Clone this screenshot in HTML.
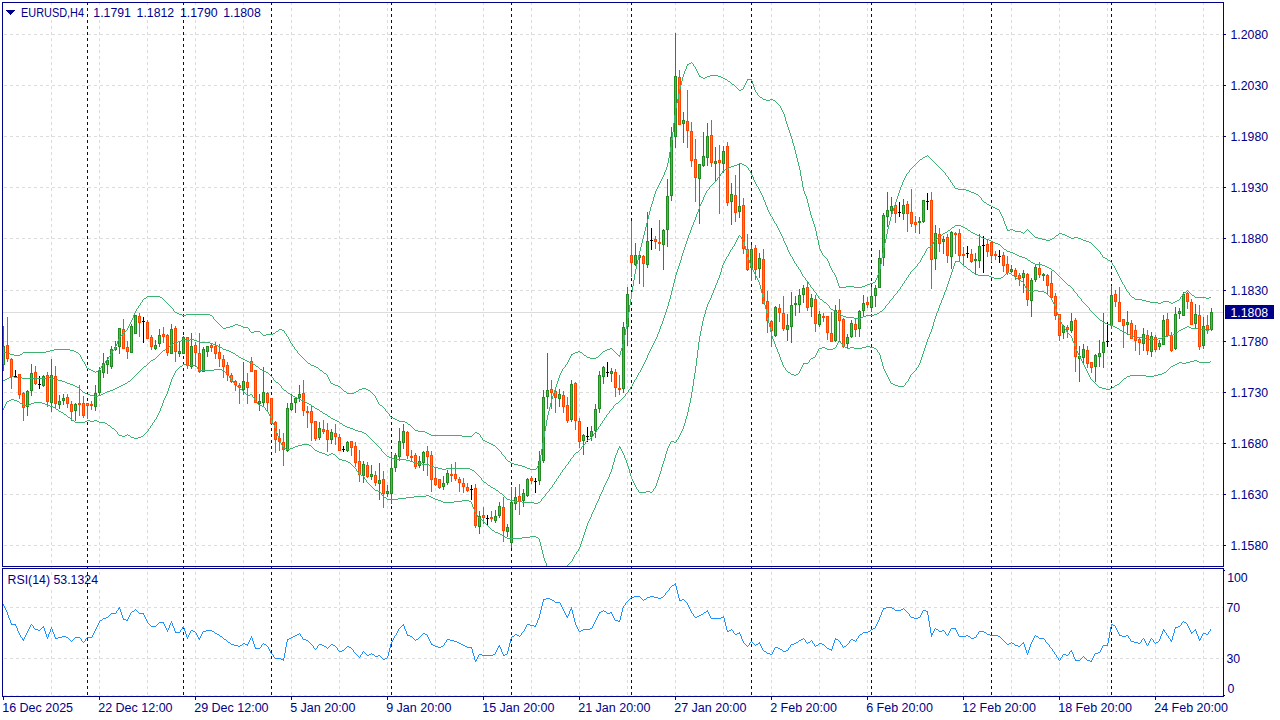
<!DOCTYPE html>
<html><head><meta charset="utf-8"><title>EURUSD,H4</title>
<style>
html,body{margin:0;padding:0;background:#fff;}
body{width:1280px;height:720px;overflow:hidden;position:relative;font-family:"Liberation Sans",sans-serif;}
svg{position:absolute;left:0;top:0;}
text{font-family:"Liberation Sans",sans-serif;font-size:12.3px;fill:#00008b;}
</style></head><body>
<svg width="1280" height="720" viewBox="0 0 1280 720">
<rect x="0" y="0" width="1280" height="720" fill="#ffffff"/>
<g shape-rendering="crispEdges" stroke="#dcdcdc" stroke-width="1" stroke-dasharray="3 3" fill="none">
<path d="M51.5 2V696"/>
<path d="M99.5 2V696"/>
<path d="M147.5 2V696"/>
<path d="M195.5 2V696"/>
<path d="M243.5 2V696"/>
<path d="M291.5 2V696"/>
<path d="M339.5 2V696"/>
<path d="M387.5 2V696"/>
<path d="M435.5 2V696"/>
<path d="M483.5 2V696"/>
<path d="M531.5 2V696"/>
<path d="M579.5 2V696"/>
<path d="M627.5 2V696"/>
<path d="M675.5 2V696"/>
<path d="M723.5 2V696"/>
<path d="M771.5 2V696"/>
<path d="M819.5 2V696"/>
<path d="M867.5 2V696"/>
<path d="M915.5 2V696"/>
<path d="M963.5 2V696"/>
<path d="M1011.5 2V696"/>
<path d="M1059.5 2V696"/>
<path d="M1107.5 2V696"/>
<path d="M1155.5 2V696"/>
<path d="M1203.5 2V696"/>
<path d="M4 34.5H1223"/>
<path d="M4 85.5H1223"/>
<path d="M4 136.5H1223"/>
<path d="M4 187.5H1223"/>
<path d="M4 238.5H1223"/>
<path d="M4 290.5H1223"/>
<path d="M4 341.5H1223"/>
<path d="M4 392.5H1223"/>
<path d="M4 443.5H1223"/>
<path d="M4 494.5H1223"/>
<path d="M4 545.5H1223"/>
<path d="M4 607.5H1223"/>
<path d="M4 658.5H1223"/>
<path d="M4 695.5H1223" stroke="#e8e8e4"/>
</g>
<rect x="4" y="6" width="260" height="14" fill="#fff"/>
<rect x="4" y="575" width="96" height="15" fill="#fff"/>
<g shape-rendering="crispEdges" stroke="#00008b" stroke-width="1" stroke-dasharray="3 3" fill="none">
<path d="M87.5 2V696"/>
<path d="M183.5 2V696"/>
<path d="M271.5 2V696"/>
<path d="M391.5 2V696"/>
<path d="M511.5 2V696"/>
<path d="M631.5 2V696"/>
<path d="M751.5 2V696"/>
<path d="M871.5 2V696"/>
<path d="M991.5 2V696"/>
<path d="M1111.5 2V696"/>
</g>
<rect x="3" y="312" width="1220" height="1" fill="#dcdcdc" shape-rendering="crispEdges"/>
<clipPath id="cm"><rect x="3" y="3" width="1220" height="563"/></clipPath>
<g shape-rendering="crispEdges" clip-path="url(#cm)">
<rect x="3" y="326" width="1" height="45" fill="#228b22"/>
<rect x="2" y="346" width="3" height="19" fill="#228b22"/>
<rect x="3" y="347" width="1" height="17" fill="#32cd32"/>
<rect x="7" y="317" width="1" height="45" fill="#ff4500"/>
<rect x="6" y="345" width="3" height="14" fill="#ff4500"/>
<rect x="7" y="346" width="1" height="12" fill="#ff8c00"/>
<rect x="11" y="358" width="1" height="31" fill="#ff4500"/>
<rect x="10" y="359" width="3" height="18" fill="#ff4500"/>
<rect x="11" y="360" width="1" height="16" fill="#ff8c00"/>
<rect x="15" y="370" width="1" height="8" fill="#000"/>
<rect x="14" y="376" width="3" height="1" fill="#000"/>
<rect x="19" y="374" width="1" height="25" fill="#ff4500"/>
<rect x="18" y="374" width="3" height="21" fill="#ff4500"/>
<rect x="19" y="375" width="1" height="19" fill="#ff8c00"/>
<rect x="23" y="392" width="1" height="29" fill="#ff4500"/>
<rect x="22" y="393" width="3" height="15" fill="#ff4500"/>
<rect x="23" y="394" width="1" height="13" fill="#ff8c00"/>
<rect x="27" y="390" width="1" height="26" fill="#228b22"/>
<rect x="26" y="391" width="3" height="16" fill="#228b22"/>
<rect x="27" y="392" width="1" height="14" fill="#32cd32"/>
<rect x="31" y="364" width="1" height="32" fill="#228b22"/>
<rect x="30" y="373" width="3" height="18" fill="#228b22"/>
<rect x="31" y="374" width="1" height="16" fill="#32cd32"/>
<rect x="35" y="366" width="1" height="19" fill="#ff4500"/>
<rect x="34" y="372" width="3" height="12" fill="#ff4500"/>
<rect x="35" y="373" width="1" height="10" fill="#ff8c00"/>
<rect x="39" y="376" width="1" height="13" fill="#000"/>
<rect x="38" y="384" width="3" height="1" fill="#000"/>
<rect x="43" y="375" width="1" height="12" fill="#228b22"/>
<rect x="42" y="376" width="3" height="10" fill="#228b22"/>
<rect x="43" y="377" width="1" height="8" fill="#32cd32"/>
<rect x="47" y="372" width="1" height="35" fill="#ff4500"/>
<rect x="46" y="375" width="3" height="27" fill="#ff4500"/>
<rect x="47" y="376" width="1" height="25" fill="#ff8c00"/>
<rect x="51" y="359" width="1" height="53" fill="#228b22"/>
<rect x="50" y="375" width="3" height="28" fill="#228b22"/>
<rect x="51" y="376" width="1" height="26" fill="#32cd32"/>
<rect x="55" y="366" width="1" height="43" fill="#ff4500"/>
<rect x="54" y="376" width="3" height="28" fill="#ff4500"/>
<rect x="55" y="377" width="1" height="26" fill="#ff8c00"/>
<rect x="59" y="395" width="1" height="14" fill="#228b22"/>
<rect x="58" y="401" width="3" height="4" fill="#228b22"/>
<rect x="59" y="402" width="1" height="2" fill="#32cd32"/>
<rect x="63" y="394" width="1" height="11" fill="#228b22"/>
<rect x="62" y="398" width="3" height="3" fill="#228b22"/>
<rect x="63" y="399" width="1" height="1" fill="#32cd32"/>
<rect x="67" y="394" width="1" height="14" fill="#ff4500"/>
<rect x="66" y="397" width="3" height="7" fill="#ff4500"/>
<rect x="67" y="398" width="1" height="5" fill="#ff8c00"/>
<rect x="71" y="401" width="1" height="20" fill="#ff4500"/>
<rect x="70" y="404" width="3" height="8" fill="#ff4500"/>
<rect x="71" y="405" width="1" height="6" fill="#ff8c00"/>
<rect x="75" y="403" width="1" height="18" fill="#228b22"/>
<rect x="74" y="404" width="3" height="7" fill="#228b22"/>
<rect x="75" y="405" width="1" height="5" fill="#32cd32"/>
<rect x="79" y="385" width="1" height="31" fill="#ff4500"/>
<rect x="78" y="403" width="3" height="2" fill="#ff4500"/>
<rect x="83" y="396" width="1" height="22" fill="#ff4500"/>
<rect x="82" y="403" width="3" height="13" fill="#ff4500"/>
<rect x="83" y="404" width="1" height="11" fill="#ff8c00"/>
<rect x="87" y="403" width="1" height="16" fill="#ff4500"/>
<rect x="86" y="403" width="3" height="3" fill="#ff4500"/>
<rect x="87" y="404" width="1" height="1" fill="#ff8c00"/>
<rect x="91" y="401" width="1" height="9" fill="#ff4500"/>
<rect x="90" y="404" width="3" height="2" fill="#ff4500"/>
<rect x="95" y="385" width="1" height="26" fill="#228b22"/>
<rect x="94" y="393" width="3" height="14" fill="#228b22"/>
<rect x="95" y="394" width="1" height="12" fill="#32cd32"/>
<rect x="99" y="367" width="1" height="28" fill="#228b22"/>
<rect x="98" y="370" width="3" height="23" fill="#228b22"/>
<rect x="99" y="371" width="1" height="21" fill="#32cd32"/>
<rect x="103" y="353" width="1" height="25" fill="#228b22"/>
<rect x="102" y="363" width="3" height="10" fill="#228b22"/>
<rect x="103" y="364" width="1" height="8" fill="#32cd32"/>
<rect x="107" y="357" width="1" height="17" fill="#228b22"/>
<rect x="106" y="360" width="3" height="5" fill="#228b22"/>
<rect x="107" y="361" width="1" height="3" fill="#32cd32"/>
<rect x="111" y="346" width="1" height="23" fill="#228b22"/>
<rect x="110" y="349" width="3" height="18" fill="#228b22"/>
<rect x="111" y="350" width="1" height="16" fill="#32cd32"/>
<rect x="115" y="341" width="1" height="10" fill="#228b22"/>
<rect x="114" y="347" width="3" height="3" fill="#228b22"/>
<rect x="115" y="348" width="1" height="1" fill="#32cd32"/>
<rect x="119" y="328" width="1" height="26" fill="#228b22"/>
<rect x="118" y="328" width="3" height="19" fill="#228b22"/>
<rect x="119" y="329" width="1" height="17" fill="#32cd32"/>
<rect x="123" y="319" width="1" height="30" fill="#ff4500"/>
<rect x="122" y="329" width="3" height="20" fill="#ff4500"/>
<rect x="123" y="330" width="1" height="18" fill="#ff8c00"/>
<rect x="127" y="341" width="1" height="18" fill="#ff4500"/>
<rect x="126" y="347" width="3" height="5" fill="#ff4500"/>
<rect x="127" y="348" width="1" height="3" fill="#ff8c00"/>
<rect x="131" y="324" width="1" height="29" fill="#228b22"/>
<rect x="130" y="326" width="3" height="27" fill="#228b22"/>
<rect x="131" y="327" width="1" height="25" fill="#32cd32"/>
<rect x="135" y="315" width="1" height="19" fill="#228b22"/>
<rect x="134" y="315" width="3" height="19" fill="#228b22"/>
<rect x="135" y="316" width="1" height="17" fill="#32cd32"/>
<rect x="139" y="313" width="1" height="24" fill="#ff4500"/>
<rect x="138" y="316" width="3" height="7" fill="#ff4500"/>
<rect x="139" y="317" width="1" height="5" fill="#ff8c00"/>
<rect x="143" y="317" width="1" height="26" fill="#000"/>
<rect x="142" y="321" width="3" height="1" fill="#000"/>
<rect x="147" y="320" width="1" height="19" fill="#ff4500"/>
<rect x="146" y="322" width="3" height="17" fill="#ff4500"/>
<rect x="147" y="323" width="1" height="15" fill="#ff8c00"/>
<rect x="151" y="335" width="1" height="15" fill="#ff4500"/>
<rect x="150" y="337" width="3" height="10" fill="#ff4500"/>
<rect x="151" y="338" width="1" height="8" fill="#ff8c00"/>
<rect x="155" y="340" width="1" height="10" fill="#228b22"/>
<rect x="154" y="345" width="3" height="4" fill="#228b22"/>
<rect x="155" y="346" width="1" height="2" fill="#32cd32"/>
<rect x="159" y="329" width="1" height="18" fill="#228b22"/>
<rect x="158" y="335" width="3" height="9" fill="#228b22"/>
<rect x="159" y="336" width="1" height="7" fill="#32cd32"/>
<rect x="163" y="327" width="1" height="16" fill="#ff4500"/>
<rect x="162" y="334" width="3" height="3" fill="#ff4500"/>
<rect x="163" y="335" width="1" height="1" fill="#ff8c00"/>
<rect x="167" y="334" width="1" height="22" fill="#ff4500"/>
<rect x="166" y="335" width="3" height="18" fill="#ff4500"/>
<rect x="167" y="336" width="1" height="16" fill="#ff8c00"/>
<rect x="171" y="324" width="1" height="30" fill="#228b22"/>
<rect x="170" y="329" width="3" height="25" fill="#228b22"/>
<rect x="171" y="330" width="1" height="23" fill="#32cd32"/>
<rect x="175" y="326" width="1" height="36" fill="#ff4500"/>
<rect x="174" y="328" width="3" height="24" fill="#ff4500"/>
<rect x="175" y="329" width="1" height="22" fill="#ff8c00"/>
<rect x="179" y="342" width="1" height="15" fill="#228b22"/>
<rect x="178" y="351" width="3" height="3" fill="#228b22"/>
<rect x="179" y="352" width="1" height="1" fill="#32cd32"/>
<rect x="183" y="336" width="1" height="18" fill="#228b22"/>
<rect x="182" y="337" width="3" height="17" fill="#228b22"/>
<rect x="183" y="338" width="1" height="15" fill="#32cd32"/>
<rect x="187" y="337" width="1" height="32" fill="#ff4500"/>
<rect x="186" y="337" width="3" height="29" fill="#ff4500"/>
<rect x="187" y="338" width="1" height="27" fill="#ff8c00"/>
<rect x="191" y="333" width="1" height="36" fill="#228b22"/>
<rect x="190" y="346" width="3" height="21" fill="#228b22"/>
<rect x="191" y="347" width="1" height="19" fill="#32cd32"/>
<rect x="195" y="342" width="1" height="25" fill="#ff4500"/>
<rect x="194" y="345" width="3" height="8" fill="#ff4500"/>
<rect x="195" y="346" width="1" height="6" fill="#ff8c00"/>
<rect x="199" y="333" width="1" height="40" fill="#ff4500"/>
<rect x="198" y="353" width="3" height="19" fill="#ff4500"/>
<rect x="199" y="354" width="1" height="17" fill="#ff8c00"/>
<rect x="203" y="347" width="1" height="25" fill="#228b22"/>
<rect x="202" y="349" width="3" height="23" fill="#228b22"/>
<rect x="203" y="350" width="1" height="21" fill="#32cd32"/>
<rect x="207" y="346" width="1" height="11" fill="#228b22"/>
<rect x="206" y="346" width="3" height="6" fill="#228b22"/>
<rect x="207" y="347" width="1" height="4" fill="#32cd32"/>
<rect x="211" y="344" width="1" height="8" fill="#ff4500"/>
<rect x="210" y="345" width="3" height="3" fill="#ff4500"/>
<rect x="211" y="346" width="1" height="1" fill="#ff8c00"/>
<rect x="215" y="342" width="1" height="17" fill="#ff4500"/>
<rect x="214" y="346" width="3" height="8" fill="#ff4500"/>
<rect x="215" y="347" width="1" height="6" fill="#ff8c00"/>
<rect x="219" y="344" width="1" height="23" fill="#ff4500"/>
<rect x="218" y="352" width="3" height="7" fill="#ff4500"/>
<rect x="219" y="353" width="1" height="5" fill="#ff8c00"/>
<rect x="223" y="355" width="1" height="23" fill="#ff4500"/>
<rect x="222" y="359" width="3" height="8" fill="#ff4500"/>
<rect x="223" y="360" width="1" height="6" fill="#ff8c00"/>
<rect x="227" y="362" width="1" height="19" fill="#ff4500"/>
<rect x="226" y="365" width="3" height="10" fill="#ff4500"/>
<rect x="227" y="366" width="1" height="8" fill="#ff8c00"/>
<rect x="231" y="373" width="1" height="10" fill="#ff4500"/>
<rect x="230" y="375" width="3" height="7" fill="#ff4500"/>
<rect x="231" y="376" width="1" height="5" fill="#ff8c00"/>
<rect x="235" y="380" width="1" height="11" fill="#ff4500"/>
<rect x="234" y="381" width="3" height="4" fill="#ff4500"/>
<rect x="235" y="382" width="1" height="2" fill="#ff8c00"/>
<rect x="239" y="383" width="1" height="21" fill="#ff4500"/>
<rect x="238" y="385" width="3" height="3" fill="#ff4500"/>
<rect x="239" y="386" width="1" height="1" fill="#ff8c00"/>
<rect x="243" y="362" width="1" height="33" fill="#228b22"/>
<rect x="242" y="381" width="3" height="9" fill="#228b22"/>
<rect x="243" y="382" width="1" height="7" fill="#32cd32"/>
<rect x="247" y="373" width="1" height="31" fill="#ff4500"/>
<rect x="246" y="382" width="3" height="6" fill="#ff4500"/>
<rect x="247" y="383" width="1" height="4" fill="#ff8c00"/>
<rect x="251" y="357" width="1" height="15" fill="#ff4500"/>
<rect x="250" y="361" width="3" height="11" fill="#ff4500"/>
<rect x="251" y="362" width="1" height="9" fill="#ff8c00"/>
<rect x="255" y="370" width="1" height="33" fill="#ff4500"/>
<rect x="254" y="370" width="3" height="33" fill="#ff4500"/>
<rect x="255" y="371" width="1" height="31" fill="#ff8c00"/>
<rect x="259" y="394" width="1" height="17" fill="#228b22"/>
<rect x="258" y="401" width="3" height="3" fill="#228b22"/>
<rect x="259" y="402" width="1" height="1" fill="#32cd32"/>
<rect x="263" y="367" width="1" height="39" fill="#228b22"/>
<rect x="262" y="392" width="3" height="11" fill="#228b22"/>
<rect x="263" y="393" width="1" height="9" fill="#32cd32"/>
<rect x="267" y="392" width="1" height="19" fill="#ff4500"/>
<rect x="266" y="393" width="3" height="10" fill="#ff4500"/>
<rect x="267" y="394" width="1" height="8" fill="#ff8c00"/>
<rect x="271" y="398" width="1" height="26" fill="#ff4500"/>
<rect x="270" y="398" width="3" height="26" fill="#ff4500"/>
<rect x="271" y="399" width="1" height="24" fill="#ff8c00"/>
<rect x="275" y="421" width="1" height="32" fill="#ff4500"/>
<rect x="274" y="422" width="3" height="18" fill="#ff4500"/>
<rect x="275" y="423" width="1" height="16" fill="#ff8c00"/>
<rect x="279" y="429" width="1" height="22" fill="#ff4500"/>
<rect x="278" y="438" width="3" height="4" fill="#ff4500"/>
<rect x="279" y="439" width="1" height="2" fill="#ff8c00"/>
<rect x="283" y="433" width="1" height="33" fill="#ff4500"/>
<rect x="282" y="442" width="3" height="8" fill="#ff4500"/>
<rect x="283" y="443" width="1" height="6" fill="#ff8c00"/>
<rect x="287" y="403" width="1" height="49" fill="#228b22"/>
<rect x="286" y="408" width="3" height="43" fill="#228b22"/>
<rect x="287" y="409" width="1" height="41" fill="#32cd32"/>
<rect x="291" y="394" width="1" height="17" fill="#228b22"/>
<rect x="290" y="403" width="3" height="7" fill="#228b22"/>
<rect x="291" y="404" width="1" height="5" fill="#32cd32"/>
<rect x="295" y="397" width="1" height="16" fill="#228b22"/>
<rect x="294" y="398" width="3" height="5" fill="#228b22"/>
<rect x="295" y="399" width="1" height="3" fill="#32cd32"/>
<rect x="299" y="385" width="1" height="17" fill="#228b22"/>
<rect x="298" y="394" width="3" height="4" fill="#228b22"/>
<rect x="299" y="395" width="1" height="2" fill="#32cd32"/>
<rect x="303" y="380" width="1" height="36" fill="#ff4500"/>
<rect x="302" y="393" width="3" height="18" fill="#ff4500"/>
<rect x="303" y="394" width="1" height="16" fill="#ff8c00"/>
<rect x="307" y="406" width="1" height="22" fill="#ff4500"/>
<rect x="306" y="411" width="3" height="2" fill="#ff4500"/>
<rect x="311" y="406" width="1" height="35" fill="#ff4500"/>
<rect x="310" y="411" width="3" height="12" fill="#ff4500"/>
<rect x="311" y="412" width="1" height="10" fill="#ff8c00"/>
<rect x="315" y="421" width="1" height="20" fill="#ff4500"/>
<rect x="314" y="421" width="3" height="18" fill="#ff4500"/>
<rect x="315" y="422" width="1" height="16" fill="#ff8c00"/>
<rect x="319" y="422" width="1" height="18" fill="#228b22"/>
<rect x="318" y="428" width="3" height="10" fill="#228b22"/>
<rect x="319" y="429" width="1" height="8" fill="#32cd32"/>
<rect x="323" y="420" width="1" height="14" fill="#ff4500"/>
<rect x="322" y="429" width="3" height="3" fill="#ff4500"/>
<rect x="323" y="430" width="1" height="1" fill="#ff8c00"/>
<rect x="327" y="423" width="1" height="29" fill="#ff4500"/>
<rect x="326" y="430" width="3" height="10" fill="#ff4500"/>
<rect x="327" y="431" width="1" height="8" fill="#ff8c00"/>
<rect x="331" y="429" width="1" height="15" fill="#228b22"/>
<rect x="330" y="432" width="3" height="8" fill="#228b22"/>
<rect x="331" y="433" width="1" height="6" fill="#32cd32"/>
<rect x="335" y="424" width="1" height="21" fill="#ff4500"/>
<rect x="334" y="433" width="3" height="4" fill="#ff4500"/>
<rect x="335" y="434" width="1" height="2" fill="#ff8c00"/>
<rect x="339" y="434" width="1" height="17" fill="#ff4500"/>
<rect x="338" y="437" width="3" height="14" fill="#ff4500"/>
<rect x="339" y="438" width="1" height="12" fill="#ff8c00"/>
<rect x="343" y="446" width="1" height="6" fill="#000"/>
<rect x="342" y="449" width="3" height="1" fill="#000"/>
<rect x="347" y="441" width="1" height="11" fill="#228b22"/>
<rect x="346" y="442" width="3" height="9" fill="#228b22"/>
<rect x="347" y="443" width="1" height="7" fill="#32cd32"/>
<rect x="351" y="441" width="1" height="15" fill="#ff4500"/>
<rect x="350" y="441" width="3" height="7" fill="#ff4500"/>
<rect x="351" y="442" width="1" height="5" fill="#ff8c00"/>
<rect x="355" y="442" width="1" height="25" fill="#ff4500"/>
<rect x="354" y="446" width="3" height="17" fill="#ff4500"/>
<rect x="355" y="447" width="1" height="15" fill="#ff8c00"/>
<rect x="359" y="450" width="1" height="32" fill="#ff4500"/>
<rect x="358" y="461" width="3" height="14" fill="#ff4500"/>
<rect x="359" y="462" width="1" height="12" fill="#ff8c00"/>
<rect x="363" y="461" width="1" height="22" fill="#228b22"/>
<rect x="362" y="464" width="3" height="12" fill="#228b22"/>
<rect x="363" y="465" width="1" height="10" fill="#32cd32"/>
<rect x="367" y="462" width="1" height="16" fill="#ff4500"/>
<rect x="366" y="465" width="3" height="12" fill="#ff4500"/>
<rect x="367" y="466" width="1" height="10" fill="#ff8c00"/>
<rect x="371" y="465" width="1" height="15" fill="#228b22"/>
<rect x="370" y="474" width="3" height="3" fill="#228b22"/>
<rect x="371" y="475" width="1" height="1" fill="#32cd32"/>
<rect x="375" y="471" width="1" height="15" fill="#ff4500"/>
<rect x="374" y="475" width="3" height="8" fill="#ff4500"/>
<rect x="375" y="476" width="1" height="6" fill="#ff8c00"/>
<rect x="379" y="463" width="1" height="37" fill="#228b22"/>
<rect x="378" y="480" width="3" height="4" fill="#228b22"/>
<rect x="379" y="481" width="1" height="2" fill="#32cd32"/>
<rect x="383" y="471" width="1" height="37" fill="#ff4500"/>
<rect x="382" y="479" width="3" height="15" fill="#ff4500"/>
<rect x="383" y="480" width="1" height="13" fill="#ff8c00"/>
<rect x="387" y="485" width="1" height="12" fill="#228b22"/>
<rect x="386" y="491" width="3" height="3" fill="#228b22"/>
<rect x="387" y="492" width="1" height="1" fill="#32cd32"/>
<rect x="391" y="453" width="1" height="51" fill="#228b22"/>
<rect x="390" y="468" width="3" height="26" fill="#228b22"/>
<rect x="391" y="469" width="1" height="24" fill="#32cd32"/>
<rect x="395" y="453" width="1" height="19" fill="#228b22"/>
<rect x="394" y="455" width="3" height="13" fill="#228b22"/>
<rect x="395" y="456" width="1" height="11" fill="#32cd32"/>
<rect x="399" y="428" width="1" height="33" fill="#228b22"/>
<rect x="398" y="441" width="3" height="16" fill="#228b22"/>
<rect x="399" y="442" width="1" height="14" fill="#32cd32"/>
<rect x="403" y="424" width="1" height="25" fill="#228b22"/>
<rect x="402" y="431" width="3" height="12" fill="#228b22"/>
<rect x="403" y="432" width="1" height="10" fill="#32cd32"/>
<rect x="407" y="431" width="1" height="28" fill="#ff4500"/>
<rect x="406" y="432" width="3" height="24" fill="#ff4500"/>
<rect x="407" y="433" width="1" height="22" fill="#ff8c00"/>
<rect x="411" y="450" width="1" height="12" fill="#ff4500"/>
<rect x="410" y="456" width="3" height="2" fill="#ff4500"/>
<rect x="415" y="453" width="1" height="16" fill="#ff4500"/>
<rect x="414" y="455" width="3" height="12" fill="#ff4500"/>
<rect x="415" y="456" width="1" height="10" fill="#ff8c00"/>
<rect x="419" y="456" width="1" height="12" fill="#228b22"/>
<rect x="418" y="461" width="3" height="5" fill="#228b22"/>
<rect x="419" y="462" width="1" height="3" fill="#32cd32"/>
<rect x="423" y="451" width="1" height="20" fill="#228b22"/>
<rect x="422" y="452" width="3" height="11" fill="#228b22"/>
<rect x="423" y="453" width="1" height="9" fill="#32cd32"/>
<rect x="427" y="446" width="1" height="30" fill="#ff4500"/>
<rect x="426" y="451" width="3" height="6" fill="#ff4500"/>
<rect x="427" y="452" width="1" height="4" fill="#ff8c00"/>
<rect x="431" y="451" width="1" height="41" fill="#ff4500"/>
<rect x="430" y="455" width="3" height="25" fill="#ff4500"/>
<rect x="431" y="456" width="1" height="23" fill="#ff8c00"/>
<rect x="435" y="468" width="1" height="18" fill="#ff4500"/>
<rect x="434" y="478" width="3" height="7" fill="#ff4500"/>
<rect x="435" y="479" width="1" height="5" fill="#ff8c00"/>
<rect x="439" y="479" width="1" height="10" fill="#ff4500"/>
<rect x="438" y="479" width="3" height="9" fill="#ff4500"/>
<rect x="439" y="480" width="1" height="7" fill="#ff8c00"/>
<rect x="443" y="476" width="1" height="14" fill="#228b22"/>
<rect x="442" y="483" width="3" height="4" fill="#228b22"/>
<rect x="443" y="484" width="1" height="2" fill="#32cd32"/>
<rect x="447" y="470" width="1" height="15" fill="#228b22"/>
<rect x="446" y="473" width="3" height="10" fill="#228b22"/>
<rect x="447" y="474" width="1" height="8" fill="#32cd32"/>
<rect x="451" y="464" width="1" height="18" fill="#ff4500"/>
<rect x="450" y="474" width="3" height="2" fill="#ff4500"/>
<rect x="455" y="462" width="1" height="19" fill="#ff4500"/>
<rect x="454" y="474" width="3" height="5" fill="#ff4500"/>
<rect x="455" y="475" width="1" height="3" fill="#ff8c00"/>
<rect x="459" y="477" width="1" height="15" fill="#ff4500"/>
<rect x="458" y="479" width="3" height="4" fill="#ff4500"/>
<rect x="459" y="480" width="1" height="2" fill="#ff8c00"/>
<rect x="463" y="478" width="1" height="15" fill="#ff4500"/>
<rect x="462" y="483" width="3" height="4" fill="#ff4500"/>
<rect x="463" y="484" width="1" height="2" fill="#ff8c00"/>
<rect x="467" y="483" width="1" height="9" fill="#ff4500"/>
<rect x="466" y="487" width="3" height="4" fill="#ff4500"/>
<rect x="467" y="488" width="1" height="2" fill="#ff8c00"/>
<rect x="471" y="485" width="1" height="15" fill="#000"/>
<rect x="470" y="489" width="3" height="1" fill="#000"/>
<rect x="475" y="484" width="1" height="44" fill="#ff4500"/>
<rect x="474" y="488" width="3" height="38" fill="#ff4500"/>
<rect x="475" y="489" width="1" height="36" fill="#ff8c00"/>
<rect x="479" y="511" width="1" height="23" fill="#228b22"/>
<rect x="478" y="516" width="3" height="11" fill="#228b22"/>
<rect x="479" y="517" width="1" height="9" fill="#32cd32"/>
<rect x="483" y="507" width="1" height="17" fill="#ff4500"/>
<rect x="482" y="515" width="3" height="3" fill="#ff4500"/>
<rect x="483" y="516" width="1" height="1" fill="#ff8c00"/>
<rect x="487" y="515" width="1" height="10" fill="#000"/>
<rect x="486" y="518" width="3" height="1" fill="#000"/>
<rect x="491" y="511" width="1" height="11" fill="#ff4500"/>
<rect x="490" y="517" width="3" height="2" fill="#ff4500"/>
<rect x="495" y="510" width="1" height="13" fill="#228b22"/>
<rect x="494" y="516" width="3" height="5" fill="#228b22"/>
<rect x="495" y="517" width="1" height="3" fill="#32cd32"/>
<rect x="499" y="502" width="1" height="16" fill="#228b22"/>
<rect x="498" y="506" width="3" height="10" fill="#228b22"/>
<rect x="499" y="507" width="1" height="8" fill="#32cd32"/>
<rect x="503" y="497" width="1" height="45" fill="#ff4500"/>
<rect x="502" y="507" width="3" height="24" fill="#ff4500"/>
<rect x="503" y="508" width="1" height="22" fill="#ff8c00"/>
<rect x="507" y="524" width="1" height="13" fill="#228b22"/>
<rect x="506" y="527" width="3" height="5" fill="#228b22"/>
<rect x="507" y="528" width="1" height="3" fill="#32cd32"/>
<rect x="511" y="487" width="1" height="61" fill="#228b22"/>
<rect x="510" y="502" width="3" height="41" fill="#228b22"/>
<rect x="511" y="503" width="1" height="39" fill="#32cd32"/>
<rect x="515" y="487" width="1" height="23" fill="#228b22"/>
<rect x="514" y="497" width="3" height="7" fill="#228b22"/>
<rect x="515" y="498" width="1" height="5" fill="#32cd32"/>
<rect x="519" y="484" width="1" height="31" fill="#ff4500"/>
<rect x="518" y="496" width="3" height="6" fill="#ff4500"/>
<rect x="519" y="497" width="1" height="4" fill="#ff8c00"/>
<rect x="523" y="489" width="1" height="18" fill="#228b22"/>
<rect x="522" y="493" width="3" height="8" fill="#228b22"/>
<rect x="523" y="494" width="1" height="6" fill="#32cd32"/>
<rect x="527" y="478" width="1" height="19" fill="#228b22"/>
<rect x="526" y="479" width="3" height="17" fill="#228b22"/>
<rect x="527" y="480" width="1" height="15" fill="#32cd32"/>
<rect x="531" y="476" width="1" height="8" fill="#ff4500"/>
<rect x="530" y="478" width="3" height="3" fill="#ff4500"/>
<rect x="531" y="479" width="1" height="1" fill="#ff8c00"/>
<rect x="535" y="478" width="1" height="15" fill="#000"/>
<rect x="534" y="481" width="3" height="1" fill="#000"/>
<rect x="539" y="451" width="1" height="34" fill="#228b22"/>
<rect x="538" y="461" width="3" height="20" fill="#228b22"/>
<rect x="539" y="462" width="1" height="18" fill="#32cd32"/>
<rect x="543" y="390" width="1" height="73" fill="#228b22"/>
<rect x="542" y="397" width="3" height="64" fill="#228b22"/>
<rect x="543" y="398" width="1" height="62" fill="#32cd32"/>
<rect x="547" y="353" width="1" height="56" fill="#228b22"/>
<rect x="546" y="390" width="3" height="7" fill="#228b22"/>
<rect x="547" y="391" width="1" height="5" fill="#32cd32"/>
<rect x="551" y="380" width="1" height="29" fill="#ff4500"/>
<rect x="550" y="389" width="3" height="4" fill="#ff4500"/>
<rect x="551" y="390" width="1" height="2" fill="#ff8c00"/>
<rect x="555" y="389" width="1" height="24" fill="#ff4500"/>
<rect x="554" y="391" width="3" height="7" fill="#ff4500"/>
<rect x="555" y="392" width="1" height="5" fill="#ff8c00"/>
<rect x="559" y="389" width="1" height="18" fill="#228b22"/>
<rect x="558" y="394" width="3" height="5" fill="#228b22"/>
<rect x="559" y="395" width="1" height="3" fill="#32cd32"/>
<rect x="563" y="391" width="1" height="22" fill="#ff4500"/>
<rect x="562" y="395" width="3" height="12" fill="#ff4500"/>
<rect x="563" y="396" width="1" height="10" fill="#ff8c00"/>
<rect x="567" y="397" width="1" height="26" fill="#ff4500"/>
<rect x="566" y="405" width="3" height="16" fill="#ff4500"/>
<rect x="567" y="406" width="1" height="14" fill="#ff8c00"/>
<rect x="571" y="380" width="1" height="42" fill="#228b22"/>
<rect x="570" y="384" width="3" height="36" fill="#228b22"/>
<rect x="571" y="385" width="1" height="34" fill="#32cd32"/>
<rect x="575" y="382" width="1" height="48" fill="#ff4500"/>
<rect x="574" y="383" width="3" height="38" fill="#ff4500"/>
<rect x="575" y="384" width="1" height="36" fill="#ff8c00"/>
<rect x="579" y="418" width="1" height="30" fill="#ff4500"/>
<rect x="578" y="421" width="3" height="21" fill="#ff4500"/>
<rect x="579" y="422" width="1" height="19" fill="#ff8c00"/>
<rect x="583" y="434" width="1" height="21" fill="#228b22"/>
<rect x="582" y="435" width="3" height="6" fill="#228b22"/>
<rect x="583" y="436" width="1" height="4" fill="#32cd32"/>
<rect x="587" y="427" width="1" height="15" fill="#000"/>
<rect x="586" y="436" width="3" height="1" fill="#000"/>
<rect x="591" y="426" width="1" height="15" fill="#228b22"/>
<rect x="590" y="431" width="3" height="6" fill="#228b22"/>
<rect x="591" y="432" width="1" height="4" fill="#32cd32"/>
<rect x="595" y="404" width="1" height="34" fill="#228b22"/>
<rect x="594" y="409" width="3" height="22" fill="#228b22"/>
<rect x="595" y="410" width="1" height="20" fill="#32cd32"/>
<rect x="599" y="371" width="1" height="42" fill="#228b22"/>
<rect x="598" y="375" width="3" height="34" fill="#228b22"/>
<rect x="599" y="376" width="1" height="32" fill="#32cd32"/>
<rect x="603" y="366" width="1" height="18" fill="#228b22"/>
<rect x="602" y="367" width="3" height="10" fill="#228b22"/>
<rect x="603" y="368" width="1" height="8" fill="#32cd32"/>
<rect x="607" y="362" width="1" height="15" fill="#000"/>
<rect x="606" y="372" width="3" height="1" fill="#000"/>
<rect x="611" y="368" width="1" height="14" fill="#228b22"/>
<rect x="610" y="371" width="3" height="3" fill="#228b22"/>
<rect x="611" y="372" width="1" height="1" fill="#32cd32"/>
<rect x="615" y="369" width="1" height="28" fill="#ff4500"/>
<rect x="614" y="372" width="3" height="16" fill="#ff4500"/>
<rect x="615" y="373" width="1" height="14" fill="#ff8c00"/>
<rect x="619" y="375" width="1" height="20" fill="#ff4500"/>
<rect x="618" y="388" width="3" height="2" fill="#ff4500"/>
<rect x="623" y="322" width="1" height="71" fill="#228b22"/>
<rect x="622" y="327" width="3" height="62" fill="#228b22"/>
<rect x="623" y="328" width="1" height="60" fill="#32cd32"/>
<rect x="627" y="287" width="1" height="59" fill="#228b22"/>
<rect x="626" y="294" width="3" height="33" fill="#228b22"/>
<rect x="627" y="295" width="1" height="31" fill="#32cd32"/>
<rect x="631" y="221" width="1" height="56" fill="#ff4500"/>
<rect x="630" y="255" width="3" height="8" fill="#ff4500"/>
<rect x="631" y="256" width="1" height="6" fill="#ff8c00"/>
<rect x="635" y="243" width="1" height="23" fill="#228b22"/>
<rect x="634" y="255" width="3" height="10" fill="#228b22"/>
<rect x="635" y="256" width="1" height="8" fill="#32cd32"/>
<rect x="639" y="255" width="1" height="29" fill="#228b22"/>
<rect x="638" y="255" width="3" height="3" fill="#228b22"/>
<rect x="639" y="256" width="1" height="1" fill="#32cd32"/>
<rect x="643" y="255" width="1" height="32" fill="#ff4500"/>
<rect x="642" y="256" width="3" height="8" fill="#ff4500"/>
<rect x="643" y="257" width="1" height="6" fill="#ff8c00"/>
<rect x="647" y="212" width="1" height="56" fill="#228b22"/>
<rect x="646" y="241" width="3" height="24" fill="#228b22"/>
<rect x="647" y="242" width="1" height="22" fill="#32cd32"/>
<rect x="651" y="228" width="1" height="22" fill="#000"/>
<rect x="650" y="240" width="3" height="1" fill="#000"/>
<rect x="655" y="236" width="1" height="13" fill="#ff4500"/>
<rect x="654" y="239" width="3" height="3" fill="#ff4500"/>
<rect x="655" y="240" width="1" height="1" fill="#ff8c00"/>
<rect x="659" y="220" width="1" height="31" fill="#ff4500"/>
<rect x="658" y="242" width="3" height="2" fill="#ff4500"/>
<rect x="663" y="229" width="1" height="41" fill="#228b22"/>
<rect x="662" y="230" width="3" height="15" fill="#228b22"/>
<rect x="663" y="231" width="1" height="13" fill="#32cd32"/>
<rect x="667" y="179" width="1" height="68" fill="#228b22"/>
<rect x="666" y="196" width="3" height="34" fill="#228b22"/>
<rect x="667" y="197" width="1" height="32" fill="#32cd32"/>
<rect x="671" y="127" width="1" height="74" fill="#228b22"/>
<rect x="670" y="137" width="3" height="59" fill="#228b22"/>
<rect x="671" y="138" width="1" height="57" fill="#32cd32"/>
<rect x="675" y="33" width="1" height="115" fill="#228b22"/>
<rect x="674" y="76" width="3" height="61" fill="#228b22"/>
<rect x="675" y="77" width="1" height="59" fill="#32cd32"/>
<rect x="679" y="70" width="1" height="55" fill="#ff4500"/>
<rect x="678" y="77" width="3" height="48" fill="#ff4500"/>
<rect x="679" y="78" width="1" height="46" fill="#ff8c00"/>
<rect x="683" y="112" width="1" height="31" fill="#228b22"/>
<rect x="682" y="120" width="3" height="4" fill="#228b22"/>
<rect x="683" y="121" width="1" height="2" fill="#32cd32"/>
<rect x="687" y="90" width="1" height="58" fill="#ff4500"/>
<rect x="686" y="121" width="3" height="10" fill="#ff4500"/>
<rect x="687" y="122" width="1" height="8" fill="#ff8c00"/>
<rect x="691" y="122" width="1" height="45" fill="#ff4500"/>
<rect x="690" y="131" width="3" height="30" fill="#ff4500"/>
<rect x="691" y="132" width="1" height="28" fill="#ff8c00"/>
<rect x="695" y="139" width="1" height="63" fill="#ff4500"/>
<rect x="694" y="159" width="3" height="19" fill="#ff4500"/>
<rect x="695" y="160" width="1" height="17" fill="#ff8c00"/>
<rect x="699" y="164" width="1" height="60" fill="#228b22"/>
<rect x="698" y="164" width="3" height="15" fill="#228b22"/>
<rect x="699" y="165" width="1" height="13" fill="#32cd32"/>
<rect x="703" y="132" width="1" height="35" fill="#228b22"/>
<rect x="702" y="156" width="3" height="10" fill="#228b22"/>
<rect x="703" y="157" width="1" height="8" fill="#32cd32"/>
<rect x="707" y="123" width="1" height="43" fill="#228b22"/>
<rect x="706" y="136" width="3" height="22" fill="#228b22"/>
<rect x="707" y="137" width="1" height="20" fill="#32cd32"/>
<rect x="711" y="120" width="1" height="47" fill="#ff4500"/>
<rect x="710" y="135" width="3" height="28" fill="#ff4500"/>
<rect x="711" y="136" width="1" height="26" fill="#ff8c00"/>
<rect x="715" y="147" width="1" height="34" fill="#228b22"/>
<rect x="714" y="161" width="3" height="3" fill="#228b22"/>
<rect x="715" y="162" width="1" height="1" fill="#32cd32"/>
<rect x="719" y="145" width="1" height="69" fill="#ff4500"/>
<rect x="718" y="160" width="3" height="3" fill="#ff4500"/>
<rect x="719" y="161" width="1" height="1" fill="#ff8c00"/>
<rect x="723" y="146" width="1" height="27" fill="#228b22"/>
<rect x="722" y="151" width="3" height="13" fill="#228b22"/>
<rect x="723" y="152" width="1" height="11" fill="#32cd32"/>
<rect x="727" y="142" width="1" height="64" fill="#ff4500"/>
<rect x="726" y="146" width="3" height="57" fill="#ff4500"/>
<rect x="727" y="147" width="1" height="55" fill="#ff8c00"/>
<rect x="731" y="183" width="1" height="42" fill="#228b22"/>
<rect x="730" y="194" width="3" height="8" fill="#228b22"/>
<rect x="731" y="195" width="1" height="6" fill="#32cd32"/>
<rect x="735" y="175" width="1" height="47" fill="#ff4500"/>
<rect x="734" y="195" width="3" height="18" fill="#ff4500"/>
<rect x="735" y="196" width="1" height="16" fill="#ff8c00"/>
<rect x="739" y="163" width="1" height="55" fill="#228b22"/>
<rect x="738" y="206" width="3" height="6" fill="#228b22"/>
<rect x="739" y="207" width="1" height="4" fill="#32cd32"/>
<rect x="743" y="198" width="1" height="56" fill="#ff4500"/>
<rect x="742" y="205" width="3" height="44" fill="#ff4500"/>
<rect x="743" y="206" width="1" height="42" fill="#ff8c00"/>
<rect x="747" y="234" width="1" height="37" fill="#ff4500"/>
<rect x="746" y="249" width="3" height="21" fill="#ff4500"/>
<rect x="747" y="250" width="1" height="19" fill="#ff8c00"/>
<rect x="751" y="245" width="1" height="36" fill="#228b22"/>
<rect x="750" y="249" width="3" height="19" fill="#228b22"/>
<rect x="751" y="250" width="1" height="17" fill="#32cd32"/>
<rect x="755" y="245" width="1" height="35" fill="#ff4500"/>
<rect x="754" y="248" width="3" height="22" fill="#ff4500"/>
<rect x="755" y="249" width="1" height="20" fill="#ff8c00"/>
<rect x="759" y="253" width="1" height="25" fill="#228b22"/>
<rect x="758" y="258" width="3" height="11" fill="#228b22"/>
<rect x="759" y="259" width="1" height="9" fill="#32cd32"/>
<rect x="763" y="249" width="1" height="55" fill="#ff4500"/>
<rect x="762" y="259" width="3" height="45" fill="#ff4500"/>
<rect x="763" y="260" width="1" height="43" fill="#ff8c00"/>
<rect x="767" y="291" width="1" height="42" fill="#ff4500"/>
<rect x="766" y="301" width="3" height="20" fill="#ff4500"/>
<rect x="767" y="302" width="1" height="18" fill="#ff8c00"/>
<rect x="771" y="320" width="1" height="27" fill="#ff4500"/>
<rect x="770" y="321" width="3" height="10" fill="#ff4500"/>
<rect x="771" y="322" width="1" height="8" fill="#ff8c00"/>
<rect x="775" y="306" width="1" height="31" fill="#228b22"/>
<rect x="774" y="307" width="3" height="29" fill="#228b22"/>
<rect x="775" y="308" width="1" height="27" fill="#32cd32"/>
<rect x="779" y="304" width="1" height="18" fill="#ff4500"/>
<rect x="778" y="308" width="3" height="5" fill="#ff4500"/>
<rect x="779" y="309" width="1" height="3" fill="#ff8c00"/>
<rect x="783" y="296" width="1" height="35" fill="#ff4500"/>
<rect x="782" y="313" width="3" height="16" fill="#ff4500"/>
<rect x="783" y="314" width="1" height="14" fill="#ff8c00"/>
<rect x="787" y="314" width="1" height="27" fill="#228b22"/>
<rect x="786" y="325" width="3" height="5" fill="#228b22"/>
<rect x="787" y="326" width="1" height="3" fill="#32cd32"/>
<rect x="791" y="292" width="1" height="51" fill="#228b22"/>
<rect x="790" y="305" width="3" height="22" fill="#228b22"/>
<rect x="791" y="306" width="1" height="20" fill="#32cd32"/>
<rect x="795" y="296" width="1" height="20" fill="#228b22"/>
<rect x="794" y="303" width="3" height="2" fill="#228b22"/>
<rect x="799" y="289" width="1" height="24" fill="#228b22"/>
<rect x="798" y="295" width="3" height="10" fill="#228b22"/>
<rect x="799" y="296" width="1" height="8" fill="#32cd32"/>
<rect x="803" y="285" width="1" height="18" fill="#228b22"/>
<rect x="802" y="288" width="3" height="7" fill="#228b22"/>
<rect x="803" y="289" width="1" height="5" fill="#32cd32"/>
<rect x="807" y="282" width="1" height="29" fill="#ff4500"/>
<rect x="806" y="287" width="3" height="21" fill="#ff4500"/>
<rect x="807" y="288" width="1" height="19" fill="#ff8c00"/>
<rect x="811" y="294" width="1" height="23" fill="#228b22"/>
<rect x="810" y="298" width="3" height="9" fill="#228b22"/>
<rect x="811" y="299" width="1" height="7" fill="#32cd32"/>
<rect x="815" y="295" width="1" height="37" fill="#ff4500"/>
<rect x="814" y="299" width="3" height="25" fill="#ff4500"/>
<rect x="815" y="300" width="1" height="23" fill="#ff8c00"/>
<rect x="819" y="311" width="1" height="16" fill="#228b22"/>
<rect x="818" y="314" width="3" height="11" fill="#228b22"/>
<rect x="819" y="315" width="1" height="9" fill="#32cd32"/>
<rect x="823" y="313" width="1" height="9" fill="#ff4500"/>
<rect x="822" y="316" width="3" height="2" fill="#ff4500"/>
<rect x="827" y="316" width="1" height="24" fill="#ff4500"/>
<rect x="826" y="316" width="3" height="17" fill="#ff4500"/>
<rect x="827" y="317" width="1" height="15" fill="#ff8c00"/>
<rect x="831" y="312" width="1" height="30" fill="#ff4500"/>
<rect x="830" y="333" width="3" height="9" fill="#ff4500"/>
<rect x="831" y="334" width="1" height="7" fill="#ff8c00"/>
<rect x="835" y="305" width="1" height="37" fill="#228b22"/>
<rect x="834" y="310" width="3" height="31" fill="#228b22"/>
<rect x="835" y="311" width="1" height="29" fill="#32cd32"/>
<rect x="839" y="299" width="1" height="43" fill="#ff4500"/>
<rect x="838" y="310" width="3" height="11" fill="#ff4500"/>
<rect x="839" y="311" width="1" height="9" fill="#ff8c00"/>
<rect x="843" y="318" width="1" height="30" fill="#ff4500"/>
<rect x="842" y="319" width="3" height="28" fill="#ff4500"/>
<rect x="843" y="320" width="1" height="26" fill="#ff8c00"/>
<rect x="847" y="334" width="1" height="15" fill="#228b22"/>
<rect x="846" y="337" width="3" height="7" fill="#228b22"/>
<rect x="847" y="338" width="1" height="5" fill="#32cd32"/>
<rect x="851" y="320" width="1" height="18" fill="#228b22"/>
<rect x="850" y="323" width="3" height="14" fill="#228b22"/>
<rect x="851" y="324" width="1" height="12" fill="#32cd32"/>
<rect x="855" y="319" width="1" height="18" fill="#ff4500"/>
<rect x="854" y="324" width="3" height="6" fill="#ff4500"/>
<rect x="855" y="325" width="1" height="4" fill="#ff8c00"/>
<rect x="859" y="310" width="1" height="27" fill="#228b22"/>
<rect x="858" y="311" width="3" height="18" fill="#228b22"/>
<rect x="859" y="312" width="1" height="16" fill="#32cd32"/>
<rect x="863" y="295" width="1" height="22" fill="#228b22"/>
<rect x="862" y="303" width="3" height="8" fill="#228b22"/>
<rect x="863" y="304" width="1" height="6" fill="#32cd32"/>
<rect x="867" y="297" width="1" height="11" fill="#ff4500"/>
<rect x="866" y="302" width="3" height="3" fill="#ff4500"/>
<rect x="867" y="303" width="1" height="1" fill="#ff8c00"/>
<rect x="871" y="287" width="1" height="25" fill="#228b22"/>
<rect x="870" y="296" width="3" height="12" fill="#228b22"/>
<rect x="871" y="297" width="1" height="10" fill="#32cd32"/>
<rect x="875" y="285" width="1" height="22" fill="#228b22"/>
<rect x="874" y="288" width="3" height="8" fill="#228b22"/>
<rect x="875" y="289" width="1" height="6" fill="#32cd32"/>
<rect x="879" y="250" width="1" height="38" fill="#228b22"/>
<rect x="878" y="258" width="3" height="30" fill="#228b22"/>
<rect x="879" y="259" width="1" height="28" fill="#32cd32"/>
<rect x="883" y="213" width="1" height="53" fill="#228b22"/>
<rect x="882" y="215" width="3" height="43" fill="#228b22"/>
<rect x="883" y="216" width="1" height="41" fill="#32cd32"/>
<rect x="887" y="192" width="1" height="35" fill="#228b22"/>
<rect x="886" y="210" width="3" height="7" fill="#228b22"/>
<rect x="887" y="211" width="1" height="5" fill="#32cd32"/>
<rect x="891" y="197" width="1" height="17" fill="#228b22"/>
<rect x="890" y="206" width="3" height="5" fill="#228b22"/>
<rect x="891" y="207" width="1" height="3" fill="#32cd32"/>
<rect x="895" y="204" width="1" height="19" fill="#ff4500"/>
<rect x="894" y="205" width="3" height="9" fill="#ff4500"/>
<rect x="895" y="206" width="1" height="7" fill="#ff8c00"/>
<rect x="899" y="202" width="1" height="15" fill="#000"/>
<rect x="898" y="212" width="3" height="1" fill="#000"/>
<rect x="903" y="199" width="1" height="21" fill="#228b22"/>
<rect x="902" y="205" width="3" height="9" fill="#228b22"/>
<rect x="903" y="206" width="1" height="7" fill="#32cd32"/>
<rect x="907" y="201" width="1" height="31" fill="#ff4500"/>
<rect x="906" y="204" width="3" height="10" fill="#ff4500"/>
<rect x="907" y="205" width="1" height="8" fill="#ff8c00"/>
<rect x="911" y="189" width="1" height="38" fill="#ff4500"/>
<rect x="910" y="212" width="3" height="12" fill="#ff4500"/>
<rect x="911" y="213" width="1" height="10" fill="#ff8c00"/>
<rect x="915" y="216" width="1" height="17" fill="#ff4500"/>
<rect x="914" y="222" width="3" height="3" fill="#ff4500"/>
<rect x="915" y="223" width="1" height="1" fill="#ff8c00"/>
<rect x="919" y="217" width="1" height="17" fill="#228b22"/>
<rect x="918" y="221" width="3" height="2" fill="#228b22"/>
<rect x="923" y="200" width="1" height="23" fill="#228b22"/>
<rect x="922" y="200" width="3" height="22" fill="#228b22"/>
<rect x="923" y="201" width="1" height="20" fill="#32cd32"/>
<rect x="927" y="193" width="1" height="17" fill="#000"/>
<rect x="926" y="201" width="3" height="1" fill="#000"/>
<rect x="931" y="192" width="1" height="97" fill="#ff4500"/>
<rect x="930" y="200" width="3" height="60" fill="#ff4500"/>
<rect x="931" y="201" width="1" height="58" fill="#ff8c00"/>
<rect x="935" y="225" width="1" height="45" fill="#228b22"/>
<rect x="934" y="233" width="3" height="26" fill="#228b22"/>
<rect x="935" y="234" width="1" height="24" fill="#32cd32"/>
<rect x="939" y="228" width="1" height="24" fill="#ff4500"/>
<rect x="938" y="234" width="3" height="10" fill="#ff4500"/>
<rect x="939" y="235" width="1" height="8" fill="#ff8c00"/>
<rect x="943" y="236" width="1" height="18" fill="#228b22"/>
<rect x="942" y="239" width="3" height="3" fill="#228b22"/>
<rect x="943" y="240" width="1" height="1" fill="#32cd32"/>
<rect x="947" y="234" width="1" height="29" fill="#ff4500"/>
<rect x="946" y="237" width="3" height="19" fill="#ff4500"/>
<rect x="947" y="238" width="1" height="17" fill="#ff8c00"/>
<rect x="951" y="231" width="1" height="38" fill="#228b22"/>
<rect x="950" y="232" width="3" height="25" fill="#228b22"/>
<rect x="951" y="233" width="1" height="23" fill="#32cd32"/>
<rect x="955" y="232" width="1" height="22" fill="#ff4500"/>
<rect x="954" y="233" width="3" height="2" fill="#ff4500"/>
<rect x="959" y="229" width="1" height="33" fill="#ff4500"/>
<rect x="958" y="233" width="3" height="23" fill="#ff4500"/>
<rect x="959" y="234" width="1" height="21" fill="#ff8c00"/>
<rect x="963" y="247" width="1" height="18" fill="#ff4500"/>
<rect x="962" y="254" width="3" height="2" fill="#ff4500"/>
<rect x="967" y="246" width="1" height="12" fill="#000"/>
<rect x="966" y="253" width="3" height="1" fill="#000"/>
<rect x="971" y="249" width="1" height="14" fill="#ff4500"/>
<rect x="970" y="254" width="3" height="8" fill="#ff4500"/>
<rect x="971" y="255" width="1" height="6" fill="#ff8c00"/>
<rect x="975" y="253" width="1" height="21" fill="#228b22"/>
<rect x="974" y="259" width="3" height="2" fill="#228b22"/>
<rect x="979" y="234" width="1" height="34" fill="#228b22"/>
<rect x="978" y="246" width="3" height="15" fill="#228b22"/>
<rect x="979" y="247" width="1" height="13" fill="#32cd32"/>
<rect x="983" y="236" width="1" height="37" fill="#000"/>
<rect x="982" y="245" width="3" height="1" fill="#000"/>
<rect x="987" y="240" width="1" height="17" fill="#ff4500"/>
<rect x="986" y="244" width="3" height="8" fill="#ff4500"/>
<rect x="987" y="245" width="1" height="6" fill="#ff8c00"/>
<rect x="991" y="242" width="1" height="20" fill="#ff4500"/>
<rect x="990" y="242" width="3" height="14" fill="#ff4500"/>
<rect x="991" y="243" width="1" height="12" fill="#ff8c00"/>
<rect x="995" y="251" width="1" height="9" fill="#ff4500"/>
<rect x="994" y="254" width="3" height="2" fill="#ff4500"/>
<rect x="999" y="250" width="1" height="13" fill="#000"/>
<rect x="998" y="256" width="3" height="1" fill="#000"/>
<rect x="1003" y="252" width="1" height="20" fill="#ff4500"/>
<rect x="1002" y="255" width="3" height="11" fill="#ff4500"/>
<rect x="1003" y="256" width="1" height="9" fill="#ff8c00"/>
<rect x="1007" y="256" width="1" height="19" fill="#ff4500"/>
<rect x="1006" y="264" width="3" height="9" fill="#ff4500"/>
<rect x="1007" y="265" width="1" height="7" fill="#ff8c00"/>
<rect x="1011" y="265" width="1" height="8" fill="#228b22"/>
<rect x="1010" y="269" width="3" height="3" fill="#228b22"/>
<rect x="1011" y="270" width="1" height="1" fill="#32cd32"/>
<rect x="1015" y="268" width="1" height="12" fill="#ff4500"/>
<rect x="1014" y="270" width="3" height="7" fill="#ff4500"/>
<rect x="1015" y="271" width="1" height="5" fill="#ff8c00"/>
<rect x="1019" y="273" width="1" height="13" fill="#ff4500"/>
<rect x="1018" y="275" width="3" height="4" fill="#ff4500"/>
<rect x="1019" y="276" width="1" height="2" fill="#ff8c00"/>
<rect x="1023" y="270" width="1" height="23" fill="#228b22"/>
<rect x="1022" y="273" width="3" height="5" fill="#228b22"/>
<rect x="1023" y="274" width="1" height="3" fill="#32cd32"/>
<rect x="1027" y="273" width="1" height="33" fill="#ff4500"/>
<rect x="1026" y="274" width="3" height="26" fill="#ff4500"/>
<rect x="1027" y="275" width="1" height="24" fill="#ff8c00"/>
<rect x="1031" y="278" width="1" height="39" fill="#228b22"/>
<rect x="1030" y="280" width="3" height="21" fill="#228b22"/>
<rect x="1031" y="281" width="1" height="19" fill="#32cd32"/>
<rect x="1035" y="264" width="1" height="18" fill="#228b22"/>
<rect x="1034" y="267" width="3" height="13" fill="#228b22"/>
<rect x="1035" y="268" width="1" height="11" fill="#32cd32"/>
<rect x="1039" y="262" width="1" height="16" fill="#ff4500"/>
<rect x="1038" y="268" width="3" height="7" fill="#ff4500"/>
<rect x="1039" y="269" width="1" height="5" fill="#ff8c00"/>
<rect x="1043" y="273" width="1" height="8" fill="#228b22"/>
<rect x="1042" y="274" width="3" height="2" fill="#228b22"/>
<rect x="1047" y="274" width="1" height="20" fill="#ff4500"/>
<rect x="1046" y="275" width="3" height="11" fill="#ff4500"/>
<rect x="1047" y="276" width="1" height="9" fill="#ff8c00"/>
<rect x="1051" y="271" width="1" height="27" fill="#ff4500"/>
<rect x="1050" y="283" width="3" height="15" fill="#ff4500"/>
<rect x="1051" y="284" width="1" height="13" fill="#ff8c00"/>
<rect x="1055" y="293" width="1" height="27" fill="#ff4500"/>
<rect x="1054" y="296" width="3" height="20" fill="#ff4500"/>
<rect x="1055" y="297" width="1" height="18" fill="#ff8c00"/>
<rect x="1059" y="314" width="1" height="27" fill="#ff4500"/>
<rect x="1058" y="314" width="3" height="22" fill="#ff4500"/>
<rect x="1059" y="315" width="1" height="20" fill="#ff8c00"/>
<rect x="1063" y="325" width="1" height="14" fill="#228b22"/>
<rect x="1062" y="326" width="3" height="7" fill="#228b22"/>
<rect x="1063" y="327" width="1" height="5" fill="#32cd32"/>
<rect x="1067" y="325" width="1" height="13" fill="#ff4500"/>
<rect x="1066" y="327" width="3" height="3" fill="#ff4500"/>
<rect x="1067" y="328" width="1" height="1" fill="#ff8c00"/>
<rect x="1071" y="313" width="1" height="20" fill="#228b22"/>
<rect x="1070" y="321" width="3" height="10" fill="#228b22"/>
<rect x="1071" y="322" width="1" height="8" fill="#32cd32"/>
<rect x="1075" y="318" width="1" height="54" fill="#ff4500"/>
<rect x="1074" y="320" width="3" height="37" fill="#ff4500"/>
<rect x="1075" y="321" width="1" height="35" fill="#ff8c00"/>
<rect x="1079" y="346" width="1" height="36" fill="#228b22"/>
<rect x="1078" y="356" width="3" height="3" fill="#228b22"/>
<rect x="1079" y="357" width="1" height="1" fill="#32cd32"/>
<rect x="1083" y="344" width="1" height="19" fill="#228b22"/>
<rect x="1082" y="349" width="3" height="9" fill="#228b22"/>
<rect x="1083" y="350" width="1" height="7" fill="#32cd32"/>
<rect x="1087" y="346" width="1" height="22" fill="#ff4500"/>
<rect x="1086" y="350" width="3" height="14" fill="#ff4500"/>
<rect x="1087" y="351" width="1" height="12" fill="#ff8c00"/>
<rect x="1091" y="362" width="1" height="11" fill="#ff4500"/>
<rect x="1090" y="362" width="3" height="6" fill="#ff4500"/>
<rect x="1091" y="363" width="1" height="4" fill="#ff8c00"/>
<rect x="1095" y="354" width="1" height="28" fill="#228b22"/>
<rect x="1094" y="355" width="3" height="12" fill="#228b22"/>
<rect x="1095" y="356" width="1" height="10" fill="#32cd32"/>
<rect x="1099" y="340" width="1" height="27" fill="#228b22"/>
<rect x="1098" y="353" width="3" height="4" fill="#228b22"/>
<rect x="1099" y="354" width="1" height="2" fill="#32cd32"/>
<rect x="1103" y="313" width="1" height="55" fill="#228b22"/>
<rect x="1102" y="342" width="3" height="11" fill="#228b22"/>
<rect x="1103" y="343" width="1" height="9" fill="#32cd32"/>
<rect x="1107" y="322" width="1" height="25" fill="#000"/>
<rect x="1106" y="341" width="3" height="1" fill="#000"/>
<rect x="1111" y="286" width="1" height="43" fill="#228b22"/>
<rect x="1110" y="295" width="3" height="31" fill="#228b22"/>
<rect x="1111" y="296" width="1" height="29" fill="#32cd32"/>
<rect x="1115" y="290" width="1" height="17" fill="#ff4500"/>
<rect x="1114" y="294" width="3" height="8" fill="#ff4500"/>
<rect x="1115" y="295" width="1" height="6" fill="#ff8c00"/>
<rect x="1119" y="287" width="1" height="35" fill="#ff4500"/>
<rect x="1118" y="302" width="3" height="20" fill="#ff4500"/>
<rect x="1119" y="303" width="1" height="18" fill="#ff8c00"/>
<rect x="1123" y="319" width="1" height="29" fill="#ff4500"/>
<rect x="1122" y="319" width="3" height="7" fill="#ff4500"/>
<rect x="1123" y="320" width="1" height="5" fill="#ff8c00"/>
<rect x="1127" y="311" width="1" height="24" fill="#228b22"/>
<rect x="1126" y="322" width="3" height="3" fill="#228b22"/>
<rect x="1127" y="323" width="1" height="1" fill="#32cd32"/>
<rect x="1131" y="320" width="1" height="19" fill="#ff4500"/>
<rect x="1130" y="323" width="3" height="16" fill="#ff4500"/>
<rect x="1131" y="324" width="1" height="14" fill="#ff8c00"/>
<rect x="1135" y="325" width="1" height="26" fill="#ff4500"/>
<rect x="1134" y="330" width="3" height="11" fill="#ff4500"/>
<rect x="1135" y="331" width="1" height="9" fill="#ff8c00"/>
<rect x="1139" y="338" width="1" height="17" fill="#ff4500"/>
<rect x="1138" y="339" width="3" height="4" fill="#ff4500"/>
<rect x="1139" y="340" width="1" height="2" fill="#ff8c00"/>
<rect x="1143" y="328" width="1" height="23" fill="#228b22"/>
<rect x="1142" y="334" width="3" height="10" fill="#228b22"/>
<rect x="1143" y="335" width="1" height="8" fill="#32cd32"/>
<rect x="1147" y="330" width="1" height="25" fill="#ff4500"/>
<rect x="1146" y="335" width="3" height="16" fill="#ff4500"/>
<rect x="1147" y="336" width="1" height="14" fill="#ff8c00"/>
<rect x="1151" y="332" width="1" height="25" fill="#228b22"/>
<rect x="1150" y="336" width="3" height="16" fill="#228b22"/>
<rect x="1151" y="337" width="1" height="14" fill="#32cd32"/>
<rect x="1155" y="335" width="1" height="17" fill="#ff4500"/>
<rect x="1154" y="337" width="3" height="13" fill="#ff4500"/>
<rect x="1155" y="338" width="1" height="11" fill="#ff8c00"/>
<rect x="1159" y="340" width="1" height="10" fill="#228b22"/>
<rect x="1158" y="343" width="3" height="4" fill="#228b22"/>
<rect x="1159" y="344" width="1" height="2" fill="#32cd32"/>
<rect x="1163" y="315" width="1" height="30" fill="#228b22"/>
<rect x="1162" y="320" width="3" height="25" fill="#228b22"/>
<rect x="1163" y="321" width="1" height="23" fill="#32cd32"/>
<rect x="1167" y="313" width="1" height="24" fill="#ff4500"/>
<rect x="1166" y="319" width="3" height="17" fill="#ff4500"/>
<rect x="1167" y="320" width="1" height="15" fill="#ff8c00"/>
<rect x="1171" y="332" width="1" height="20" fill="#ff4500"/>
<rect x="1170" y="335" width="3" height="16" fill="#ff4500"/>
<rect x="1171" y="336" width="1" height="14" fill="#ff8c00"/>
<rect x="1175" y="307" width="1" height="43" fill="#228b22"/>
<rect x="1174" y="314" width="3" height="35" fill="#228b22"/>
<rect x="1175" y="315" width="1" height="33" fill="#32cd32"/>
<rect x="1179" y="308" width="1" height="11" fill="#228b22"/>
<rect x="1178" y="311" width="3" height="3" fill="#228b22"/>
<rect x="1179" y="312" width="1" height="1" fill="#32cd32"/>
<rect x="1183" y="292" width="1" height="24" fill="#228b22"/>
<rect x="1182" y="294" width="3" height="22" fill="#228b22"/>
<rect x="1183" y="295" width="1" height="20" fill="#32cd32"/>
<rect x="1187" y="292" width="1" height="17" fill="#ff4500"/>
<rect x="1186" y="293" width="3" height="9" fill="#ff4500"/>
<rect x="1187" y="294" width="1" height="7" fill="#ff8c00"/>
<rect x="1191" y="299" width="1" height="26" fill="#ff4500"/>
<rect x="1190" y="302" width="3" height="23" fill="#ff4500"/>
<rect x="1191" y="303" width="1" height="21" fill="#ff8c00"/>
<rect x="1195" y="304" width="1" height="25" fill="#228b22"/>
<rect x="1194" y="314" width="3" height="10" fill="#228b22"/>
<rect x="1195" y="315" width="1" height="8" fill="#32cd32"/>
<rect x="1199" y="305" width="1" height="45" fill="#ff4500"/>
<rect x="1198" y="315" width="3" height="32" fill="#ff4500"/>
<rect x="1199" y="316" width="1" height="30" fill="#ff8c00"/>
<rect x="1203" y="317" width="1" height="32" fill="#228b22"/>
<rect x="1202" y="326" width="3" height="20" fill="#228b22"/>
<rect x="1203" y="327" width="1" height="18" fill="#32cd32"/>
<rect x="1207" y="315" width="1" height="19" fill="#ff4500"/>
<rect x="1206" y="325" width="3" height="5" fill="#ff4500"/>
<rect x="1207" y="326" width="1" height="3" fill="#ff8c00"/>
<rect x="1211" y="308" width="1" height="23" fill="#228b22"/>
<rect x="1210" y="312" width="3" height="18" fill="#228b22"/>
<rect x="1211" y="313" width="1" height="16" fill="#32cd32"/>
</g>
<path d="M3 352h3v1h-3zM6 353h4v1h-4zM10 354h4v1h-4zM14 355h6v1h-6zM20 354h2v1h-2zM22 353h1v1h-1zM23 352h23v1h-23zM46 351h4v1h-4zM50 350h4v1h-4zM54 349h16v1h-16zM70 350h4v1h-4zM74 351h2v1h-2zM76 352h2v1h-2zM78 353h1v1h-1zM79 354h1v1h-1zM80 355h1v2h-1zM81 357h1v2h-1zM82 359h1v2h-1zM83 361h1v1h-1zM84 362h1v2h-1zM85 364h1v2h-1zM86 366h1v2h-1zM87 368h2v1h-2zM89 369h2v1h-2zM91 370h2v1h-2zM93 371h2v1h-2zM95 372h1v1h-1zM96 371h2v1h-2zM98 370h1v1h-1zM99 369h1v1h-1zM100 368h1v1h-1zM101 366h1v2h-1zM102 365h1v1h-1zM103 364h1v1h-1zM104 363h1v1h-1zM105 361h1v2h-1zM106 360h1v1h-1zM107 359h1v1h-1zM108 357h1v2h-1zM109 356h1v1h-1zM110 354h1v2h-1zM111 353h1v1h-1zM112 351h1v2h-1zM113 350h1v1h-1zM114 348h1v2h-1zM115 346h1v2h-1zM116 344h1v2h-1zM117 341h1v3h-1zM118 339h1v2h-1zM119 337h1v2h-1zM120 336h1v1h-1zM121 335h1v1h-1zM122 334h1v1h-1zM123 333h1v1h-1zM124 332h1v1h-1zM125 331h1v1h-1zM126 330h1v1h-1zM127 328h1v2h-1zM128 326h1v2h-1zM129 324h1v2h-1zM130 322h1v2h-1zM131 320h1v2h-1zM132 318h1v2h-1zM133 315h1v3h-1zM134 313h1v2h-1zM135 311h1v2h-1zM136 309h1v2h-1zM137 308h1v1h-1zM138 306h1v2h-1zM139 305h1v1h-1zM140 303h1v2h-1zM141 302h1v1h-1zM142 300h1v2h-1zM143 299h1v1h-1zM144 298h2v1h-2zM146 297h1v1h-1zM147 296h13v1h-13zM160 297h2v1h-2zM162 298h1v1h-1zM163 299h1v1h-1zM164 300h1v1h-1zM165 301h1v1h-1zM166 302h1v1h-1zM167 303h1v1h-1zM168 304h1v1h-1zM169 305h1v1h-1zM170 306h1v1h-1zM171 307h1v1h-1zM172 308h1v1h-1zM173 309h1v2h-1zM174 311h1v1h-1zM175 312h2v1h-2zM177 313h2v1h-2zM179 314h3v1h-3zM182 315h4v1h-4zM186 314h24v1h-24zM210 315h2v1h-2zM212 316h1v1h-1zM213 317h1v2h-1zM214 319h1v1h-1zM215 320h1v1h-1zM216 321h1v1h-1zM217 322h1v1h-1zM218 323h1v1h-1zM219 324h1v1h-1zM220 325h1v1h-1zM221 326h1v1h-1zM222 327h1v1h-1zM223 328h3v1h-3zM226 327h4v1h-4zM230 326h3v1h-3zM233 325h2v1h-2zM235 324h3v1h-3zM238 325h3v1h-3zM241 326h2v1h-2zM243 327h5v1h-5zM248 328h1v1h-1zM249 329h1v2h-1zM250 331h1v1h-1zM251 332h3v1h-3zM254 331h6v1h-6zM260 332h1v1h-1zM261 333h1v1h-1zM262 334h1v1h-1zM263 335h3v1h-3zM266 334h7v1h-7zM273 333h2v1h-2zM275 332h1v1h-1zM276 331h2v1h-2zM278 330h1v1h-1zM279 329h3v1h-3zM282 330h2v1h-2zM284 331h1v2h-1zM285 333h1v1h-1zM286 334h1v2h-1zM287 336h1v1h-1zM288 337h1v2h-1zM289 339h1v2h-1zM290 341h1v2h-1zM291 343h1v1h-1zM292 344h1v2h-1zM293 346h1v1h-1zM294 347h1v2h-1zM295 349h1v1h-1zM296 350h1v1h-1zM297 351h1v2h-1zM298 353h1v1h-1zM299 354h1v1h-1zM300 355h1v1h-1zM301 356h1v1h-1zM302 357h1v1h-1zM303 358h1v1h-1zM304 359h1v1h-1zM305 360h1v1h-1zM306 361h1v1h-1zM307 362h1v1h-1zM308 363h2v1h-2zM310 364h1v1h-1zM311 365h3v1h-3zM314 366h2v1h-2zM316 367h2v1h-2zM318 368h1v1h-1zM319 369h1v1h-1zM320 370h2v1h-2zM322 371h1v1h-1zM323 372h1v1h-1zM324 373h2v1h-2zM326 374h1v1h-1zM327 375h1v2h-1zM328 377h1v2h-1zM329 379h1v2h-1zM330 381h1v2h-1zM331 383h2v1h-2zM333 384h2v1h-2zM335 385h3v1h-3zM338 386h2v1h-2zM340 387h1v1h-1zM341 388h1v1h-1zM342 389h1v1h-1zM343 390h1v1h-1zM344 391h2v1h-2zM346 392h1v1h-1zM347 393h7v1h-7zM354 392h2v1h-2zM356 391h2v1h-2zM358 390h1v1h-1zM359 389h3v1h-3zM362 388h4v1h-4zM366 389h2v1h-2zM368 390h2v1h-2zM370 391h1v1h-1zM371 392h1v1h-1zM372 393h1v1h-1zM373 394h1v1h-1zM374 395h1v1h-1zM375 396h1v2h-1zM376 398h1v2h-1zM377 400h1v2h-1zM378 402h1v2h-1zM379 404h1v1h-1zM380 405h2v1h-2zM382 406h1v1h-1zM383 407h1v1h-1zM384 408h1v1h-1zM385 409h1v2h-1zM386 411h1v1h-1zM387 412h1v1h-1zM388 413h1v1h-1zM389 414h1v2h-1zM390 416h1v1h-1zM391 417h2v1h-2zM393 418h2v1h-2zM395 419h2v1h-2zM397 420h2v1h-2zM399 421h6v1h-6zM405 422h2v1h-2zM407 423h1v1h-1zM408 424h2v1h-2zM410 425h1v1h-1zM411 426h1v1h-1zM412 427h1v1h-1zM413 428h1v1h-1zM414 429h1v1h-1zM415 430h3v1h-3zM418 431h7v1h-7zM425 432h2v1h-2zM427 433h2v1h-2zM429 434h2v1h-2zM431 435h31v1h-31zM462 436h10v1h-10zM472 435h1v1h-1zM473 434h1v1h-1zM474 433h1v1h-1zM475 432h2v1h-2zM477 433h2v1h-2zM479 434h1v1h-1zM480 435h1v2h-1zM481 437h1v1h-1zM482 438h1v2h-1zM483 440h2v1h-2zM485 441h2v1h-2zM487 442h2v1h-2zM489 443h2v1h-2zM491 444h2v1h-2zM493 445h2v1h-2zM495 446h1v1h-1zM496 447h1v1h-1zM497 448h1v1h-1zM498 449h1v1h-1zM499 450h1v1h-1zM500 451h1v1h-1zM501 452h1v2h-1zM502 454h1v1h-1zM503 455h1v1h-1zM504 456h1v1h-1zM505 457h1v2h-1zM506 459h1v1h-1zM507 460h1v1h-1zM508 461h2v1h-2zM510 462h1v1h-1zM511 463h3v1h-3zM514 464h4v1h-4zM518 465h4v1h-4zM522 466h3v1h-3zM525 467h2v1h-2zM527 468h3v1h-3zM530 469h6v1h-6zM536 468h1v1h-1zM537 466h1v2h-1zM538 465h1v1h-1zM539 461h1v4h-1zM540 455h1v6h-1zM541 449h1v6h-1zM542 443h1v6h-1zM543 437h1v6h-1zM544 431h1v6h-1zM545 426h1v5h-1zM546 420h1v6h-1zM547 415h1v5h-1zM548 411h1v4h-1zM549 407h1v4h-1zM550 403h1v4h-1zM551 399h1v4h-1zM552 396h1v3h-1zM553 393h1v3h-1zM554 390h1v3h-1zM555 387h1v3h-1zM556 384h1v3h-1zM557 381h1v3h-1zM558 378h1v3h-1zM559 375h1v3h-1zM560 373h1v2h-1zM561 371h1v2h-1zM562 369h1v2h-1zM563 368h1v1h-1zM564 367h1v1h-1zM565 365h1v2h-1zM566 364h1v1h-1zM567 362h1v2h-1zM568 360h1v2h-1zM569 358h1v2h-1zM570 356h1v2h-1zM571 354h1v2h-1zM572 354h1v1h-1zM573 353h2v1h-2zM575 352h3v1h-3zM578 351h2v1h-2zM580 352h2v1h-2zM582 353h1v1h-1zM583 354h1v1h-1zM584 355h2v1h-2zM586 356h1v1h-1zM587 357h3v1h-3zM590 358h6v1h-6zM596 357h2v1h-2zM598 356h1v1h-1zM599 355h1v1h-1zM600 354h1v1h-1zM601 353h1v1h-1zM602 352h1v1h-1zM603 351h2v1h-2zM605 350h2v1h-2zM607 349h3v1h-3zM610 348h2v1h-2zM612 349h1v1h-1zM613 350h1v1h-1zM614 351h1v1h-1zM615 352h1v1h-1zM616 353h1v1h-1zM617 354h1v1h-1zM618 355h1v1h-1zM619 355h1v2h-1zM620 351h1v4h-1zM621 348h1v3h-1zM622 344h1v4h-1zM623 340h1v4h-1zM624 335h1v5h-1zM625 329h1v6h-1zM626 324h1v5h-1zM627 318h1v6h-1zM628 312h1v6h-1zM629 305h1v7h-1zM630 299h1v6h-1zM631 292h1v7h-1zM632 286h1v6h-1zM633 280h1v6h-1zM634 274h1v6h-1zM635 269h1v5h-1zM636 264h1v5h-1zM637 260h1v4h-1zM638 255h1v5h-1zM639 251h1v4h-1zM640 247h1v4h-1zM641 243h1v4h-1zM642 239h1v4h-1zM643 235h1v4h-1zM644 231h1v4h-1zM645 227h1v4h-1zM646 223h1v4h-1zM647 219h1v4h-1zM648 215h1v4h-1zM649 211h1v4h-1zM650 207h1v4h-1zM651 204h1v3h-1zM652 201h1v3h-1zM653 197h1v4h-1zM654 194h1v3h-1zM655 191h1v3h-1zM656 189h1v2h-1zM657 187h1v2h-1zM658 185h1v2h-1zM659 183h1v2h-1zM660 181h1v2h-1zM661 179h1v2h-1zM662 177h1v2h-1zM663 175h1v2h-1zM664 172h1v3h-1zM665 170h1v2h-1zM666 167h1v3h-1zM667 163h1v4h-1zM668 158h1v5h-1zM669 152h1v6h-1zM670 147h1v5h-1zM671 140h1v7h-1zM672 132h1v8h-1zM673 123h1v9h-1zM674 115h1v8h-1zM675 108h1v7h-1zM676 103h1v5h-1zM677 99h1v4h-1zM678 94h1v5h-1zM679 89h1v5h-1zM680 85h1v4h-1zM681 81h1v4h-1zM682 77h1v4h-1zM683 74h1v3h-1zM684 71h1v3h-1zM685 69h1v2h-1zM686 66h1v3h-1zM687 64h1v2h-1zM688 64h1v1h-1zM689 63h2v1h-2zM691 62h1v1h-1zM692 63h1v1h-1zM693 64h1v2h-1zM694 66h1v1h-1zM695 67h1v2h-1zM696 69h1v2h-1zM697 71h1v2h-1zM698 73h1v2h-1zM699 75h1v2h-1zM700 76h1v1h-1zM701 77h2v1h-2zM703 78h2v1h-2zM705 77h2v1h-2zM707 76h3v1h-3zM710 75h8v1h-8zM718 76h3v1h-3zM721 77h2v1h-2zM723 78h2v1h-2zM725 79h2v1h-2zM727 80h1v1h-1zM728 81h2v1h-2zM730 82h1v1h-1zM731 83h1v1h-1zM732 84h2v1h-2zM734 85h1v1h-1zM735 86h1v1h-1zM736 87h1v1h-1zM737 88h1v1h-1zM738 89h1v1h-1zM739 90h2v1h-2zM741 89h2v1h-2zM743 87h1v2h-1zM744 85h1v2h-1zM745 83h1v2h-1zM746 81h1v2h-1zM747 79h1v2h-1zM748 79h3v1h-3zM751 79h1v2h-1zM752 81h1v3h-1zM753 84h1v3h-1zM754 87h1v3h-1zM755 90h1v2h-1zM756 92h1v1h-1zM757 93h1v2h-1zM758 95h1v1h-1zM759 96h1v1h-1zM760 97h2v1h-2zM762 98h1v1h-1zM763 99h3v1h-3zM766 100h4v1h-4zM770 99h3v1h-3zM773 100h2v1h-2zM775 101h1v1h-1zM776 102h1v1h-1zM777 103h1v1h-1zM778 104h1v1h-1zM779 105h1v1h-1zM780 106h1v2h-1zM781 108h1v2h-1zM782 110h1v2h-1zM783 112h1v2h-1zM784 114h1v3h-1zM785 117h1v4h-1zM786 121h1v3h-1zM787 124h1v3h-1zM788 127h1v3h-1zM789 130h1v3h-1zM790 133h1v3h-1zM791 136h1v3h-1zM792 139h1v4h-1zM793 143h1v3h-1zM794 146h1v4h-1zM795 150h1v4h-1zM796 154h1v4h-1zM797 158h1v4h-1zM798 162h1v4h-1zM799 166h1v4h-1zM800 170h1v6h-1zM801 176h1v5h-1zM802 181h1v6h-1zM803 187h1v4h-1zM804 191h1v3h-1zM805 194h1v2h-1zM806 196h1v3h-1zM807 199h1v4h-1zM808 203h1v4h-1zM809 207h1v4h-1zM810 211h1v4h-1zM811 215h1v3h-1zM812 218h1v3h-1zM813 221h1v3h-1zM814 224h1v3h-1zM815 227h1v4h-1zM816 231h1v5h-1zM817 236h1v4h-1zM818 240h1v5h-1zM819 245h1v4h-1zM820 249h1v2h-1zM821 251h1v2h-1zM822 253h1v2h-1zM823 255h1v1h-1zM824 256h1v1h-1zM825 257h1v1h-1zM826 258h1v1h-1zM827 259h1v2h-1zM828 261h1v2h-1zM829 263h1v3h-1zM830 266h1v2h-1zM831 268h1v2h-1zM832 270h1v2h-1zM833 272h1v1h-1zM834 273h1v2h-1zM835 275h1v2h-1zM836 277h1v3h-1zM837 280h1v3h-1zM838 283h1v3h-1zM839 286h1v2h-1zM840 287h6v1h-6zM846 286h8v1h-8zM854 287h8v1h-8zM862 286h3v1h-3zM865 285h2v1h-2zM867 284h3v1h-3zM870 283h3v1h-3zM873 282h2v1h-2zM875 280h1v2h-1zM876 278h1v2h-1zM877 275h1v3h-1zM878 273h1v2h-1zM879 269h1v4h-1zM880 264h1v5h-1zM881 258h1v6h-1zM882 253h1v5h-1zM883 248h1v5h-1zM884 243h1v5h-1zM885 239h1v4h-1zM886 234h1v5h-1zM887 229h1v5h-1zM888 225h1v4h-1zM889 221h1v4h-1zM890 217h1v4h-1zM891 214h1v3h-1zM892 211h1v3h-1zM893 208h1v3h-1zM894 205h1v3h-1zM895 202h1v3h-1zM896 199h1v3h-1zM897 196h1v3h-1zM898 193h1v3h-1zM899 190h1v3h-1zM900 187h1v3h-1zM901 185h1v2h-1zM902 182h1v3h-1zM903 180h1v2h-1zM904 178h1v2h-1zM905 176h1v2h-1zM906 174h1v2h-1zM907 173h1v1h-1zM908 172h1v1h-1zM909 170h1v2h-1zM910 169h1v1h-1zM911 168h1v1h-1zM912 167h1v1h-1zM913 166h1v1h-1zM914 165h1v1h-1zM915 164h1v1h-1zM916 163h1v1h-1zM917 162h1v1h-1zM918 161h1v1h-1zM919 160h1v1h-1zM920 159h2v1h-2zM922 158h1v1h-1zM923 157h2v1h-2zM925 156h2v1h-2zM927 155h1v1h-1zM928 156h1v1h-1zM929 157h1v1h-1zM930 158h1v1h-1zM931 159h1v1h-1zM932 160h1v1h-1zM933 161h1v1h-1zM934 162h1v1h-1zM935 163h1v1h-1zM936 164h1v1h-1zM937 165h1v1h-1zM938 166h1v1h-1zM939 167h1v1h-1zM940 168h1v1h-1zM941 169h1v1h-1zM942 170h1v1h-1zM943 171h1v1h-1zM944 172h1v1h-1zM945 173h1v2h-1zM946 175h1v1h-1zM947 176h1v1h-1zM948 177h1v2h-1zM949 179h1v1h-1zM950 180h1v2h-1zM951 182h1v1h-1zM952 183h1v2h-1zM953 185h1v1h-1zM954 186h1v2h-1zM955 188h3v1h-3zM958 189h8v1h-8zM966 190h3v1h-3zM969 191h2v1h-2zM971 192h3v1h-3zM974 193h2v1h-2zM976 194h2v1h-2zM978 195h1v1h-1zM979 196h1v1h-1zM980 197h1v1h-1zM981 198h1v2h-1zM982 200h1v1h-1zM983 201h1v1h-1zM984 202h2v1h-2zM986 203h1v1h-1zM987 204h2v1h-2zM989 205h2v1h-2zM991 206h2v1h-2zM993 207h2v1h-2zM995 208h2v1h-2zM997 209h2v1h-2zM999 210h1v2h-1zM1000 212h1v2h-1zM1001 214h1v2h-1zM1002 216h1v2h-1zM1003 218h1v3h-1zM1004 221h1v3h-1zM1005 224h1v2h-1zM1006 226h1v3h-1zM1007 229h1v2h-1zM1008 230h2v1h-2zM1010 229h3v1h-3zM1013 230h2v1h-2zM1015 231h6v1h-6zM1021 232h2v1h-2zM1023 233h1v1h-1zM1024 232h1v1h-1zM1025 231h1v1h-1zM1026 230h1v1h-1zM1027 229h1v1h-1zM1028 230h1v1h-1zM1029 231h1v1h-1zM1030 232h1v1h-1zM1031 233h1v1h-1zM1032 234h1v1h-1zM1033 235h1v1h-1zM1034 236h1v1h-1zM1035 237h3v1h-3zM1038 238h4v1h-4zM1042 239h4v1h-4zM1046 240h4v1h-4zM1050 239h2v1h-2zM1052 238h2v1h-2zM1054 237h1v1h-1zM1055 236h1v1h-1zM1056 235h2v1h-2zM1058 234h1v1h-1zM1059 233h3v1h-3zM1062 234h3v1h-3zM1065 235h2v1h-2zM1067 236h2v1h-2zM1069 237h2v1h-2zM1071 238h3v1h-3zM1074 237h4v1h-4zM1078 238h3v1h-3zM1081 239h2v1h-2zM1083 240h3v1h-3zM1086 241h3v1h-3zM1089 242h2v1h-2zM1091 243h1v1h-1zM1092 244h1v1h-1zM1093 245h1v1h-1zM1094 246h1v1h-1zM1095 247h1v1h-1zM1096 248h1v1h-1zM1097 249h1v1h-1zM1098 250h1v1h-1zM1099 251h1v1h-1zM1100 252h1v2h-1zM1101 254h1v1h-1zM1102 255h1v2h-1zM1103 257h2v1h-2zM1105 258h2v1h-2zM1107 259h1v1h-1zM1108 260h2v1h-2zM1110 261h1v1h-1zM1111 262h1v1h-1zM1112 263h1v2h-1zM1113 265h1v1h-1zM1114 266h1v2h-1zM1115 268h1v2h-1zM1116 270h1v2h-1zM1117 272h1v2h-1zM1118 274h1v2h-1zM1119 276h1v2h-1zM1120 278h1v2h-1zM1121 280h1v2h-1zM1122 282h1v2h-1zM1123 284h1v1h-1zM1124 285h1v2h-1zM1125 287h1v2h-1zM1126 289h1v2h-1zM1127 291h1v1h-1zM1128 292h1v1h-1zM1129 293h1v2h-1zM1130 295h1v1h-1zM1131 296h1v1h-1zM1132 297h2v1h-2zM1134 298h1v1h-1zM1135 299h7v1h-7zM1142 300h4v1h-4zM1146 301h4v1h-4zM1150 302h8v1h-8zM1158 303h3v1h-3zM1161 302h2v1h-2zM1163 301h6v1h-6zM1169 302h2v1h-2zM1171 303h2v1h-2zM1173 302h2v1h-2zM1175 301h2v1h-2zM1177 300h2v1h-2zM1179 299h1v1h-1zM1180 297h1v2h-1zM1181 296h1v1h-1zM1182 294h1v2h-1zM1183 293h1v1h-1zM1184 292h2v1h-2zM1186 291h1v1h-1zM1187 290h1v1h-1zM1188 291h1v1h-1zM1189 292h1v1h-1zM1190 293h1v1h-1zM1191 294h1v1h-1zM1192 295h2v1h-2zM1194 296h1v1h-1zM1195 297h11v1h-11zM1206 298h3v1h-3zM1209 297h2v1h-2z" fill="#3cb371" shape-rendering="crispEdges"/>
<path d="M3 380h2v1h-2zM5 379h2v1h-2zM7 378h2v1h-2zM9 377h2v1h-2zM11 376h3v1h-3zM14 377h8v1h-8zM22 378h24v1h-24zM46 377h4v1h-4zM50 378h4v1h-4zM54 379h4v1h-4zM58 380h4v1h-4zM62 381h3v1h-3zM65 382h2v1h-2zM67 383h3v1h-3zM70 384h3v1h-3zM73 385h2v1h-2zM75 386h2v1h-2zM77 387h2v1h-2zM79 388h1v1h-1zM80 389h1v1h-1zM81 390h1v1h-1zM82 391h1v1h-1zM83 392h2v1h-2zM85 393h2v1h-2zM87 394h3v1h-3zM90 395h4v1h-4zM94 396h4v1h-4zM98 395h3v1h-3zM101 394h2v1h-2zM103 393h2v1h-2zM105 392h2v1h-2zM107 391h3v1h-3zM110 390h3v1h-3zM113 389h2v1h-2zM115 388h2v1h-2zM117 387h2v1h-2zM119 386h2v1h-2zM121 385h2v1h-2zM123 384h2v1h-2zM125 383h2v1h-2zM127 382h1v1h-1zM128 381h2v1h-2zM130 380h1v1h-1zM131 379h1v1h-1zM132 378h1v1h-1zM133 377h1v1h-1zM134 376h1v1h-1zM135 375h1v1h-1zM136 374h1v1h-1zM137 373h1v1h-1zM138 372h1v1h-1zM139 371h1v1h-1zM140 370h1v1h-1zM141 369h1v1h-1zM142 368h1v1h-1zM143 367h1v1h-1zM144 366h2v1h-2zM146 365h1v1h-1zM147 364h1v1h-1zM148 363h1v1h-1zM149 362h1v1h-1zM150 361h1v1h-1zM151 360h2v1h-2zM153 359h2v1h-2zM155 358h1v1h-1zM156 357h1v1h-1zM157 356h1v1h-1zM158 355h1v1h-1zM159 354h1v1h-1zM160 353h1v1h-1zM161 352h1v1h-1zM162 351h1v1h-1zM163 350h2v1h-2zM165 349h2v1h-2zM167 348h1v1h-1zM168 347h1v1h-1zM169 346h1v1h-1zM170 345h1v1h-1zM171 344h2v1h-2zM173 343h2v1h-2zM175 342h3v1h-3zM178 341h3v1h-3zM181 340h2v1h-2zM183 339h3v1h-3zM186 340h4v1h-4zM190 339h4v1h-4zM194 340h3v1h-3zM197 341h2v1h-2zM199 342h11v1h-11zM210 343h3v1h-3zM213 344h2v1h-2zM215 345h3v1h-3zM218 346h2v1h-2zM220 347h2v1h-2zM222 348h1v1h-1zM223 349h3v1h-3zM226 350h3v1h-3zM229 351h2v1h-2zM231 352h2v1h-2zM233 353h2v1h-2zM235 354h1v1h-1zM236 355h2v1h-2zM238 356h1v1h-1zM239 357h2v1h-2zM241 358h2v1h-2zM243 359h2v1h-2zM245 360h2v1h-2zM247 361h2v1h-2zM249 362h2v1h-2zM251 363h2v1h-2zM253 364h2v1h-2zM255 365h1v1h-1zM256 366h2v1h-2zM258 367h1v1h-1zM259 368h1v1h-1zM260 369h2v1h-2zM262 370h1v1h-1zM263 371h3v1h-3zM266 372h2v1h-2zM268 373h1v1h-1zM269 374h1v1h-1zM270 375h1v1h-1zM271 376h1v1h-1zM272 377h1v1h-1zM273 378h1v2h-1zM274 380h1v1h-1zM275 381h1v1h-1zM276 382h2v1h-2zM278 383h1v1h-1zM279 384h1v1h-1zM280 385h1v1h-1zM281 386h1v2h-1zM282 388h1v1h-1zM283 389h1v1h-1zM284 390h2v1h-2zM286 391h1v1h-1zM287 392h1v1h-1zM288 393h2v1h-2zM290 394h1v1h-1zM291 395h2v1h-2zM293 396h2v1h-2zM295 397h2v1h-2zM297 398h2v1h-2zM299 399h2v1h-2zM301 400h2v1h-2zM303 401h2v1h-2zM305 402h2v1h-2zM307 403h2v1h-2zM309 404h2v1h-2zM311 405h1v1h-1zM312 406h2v1h-2zM314 407h1v1h-1zM315 408h2v1h-2zM317 409h2v1h-2zM319 410h1v1h-1zM320 411h2v1h-2zM322 412h1v1h-1zM323 413h2v1h-2zM325 414h2v1h-2zM327 415h1v1h-1zM328 416h2v1h-2zM330 417h1v1h-1zM331 418h2v1h-2zM333 419h2v1h-2zM335 420h2v1h-2zM337 421h2v1h-2zM339 422h1v1h-1zM340 423h2v1h-2zM342 424h1v1h-1zM343 425h2v1h-2zM345 426h2v1h-2zM347 427h3v1h-3zM350 428h3v1h-3zM353 429h2v1h-2zM355 430h3v1h-3zM358 431h4v1h-4zM362 432h2v1h-2zM364 433h2v1h-2zM366 434h1v1h-1zM367 435h1v1h-1zM368 436h1v1h-1zM369 437h1v1h-1zM370 438h1v1h-1zM371 439h1v1h-1zM372 440h1v1h-1zM373 441h1v1h-1zM374 442h1v1h-1zM375 443h1v1h-1zM376 444h1v1h-1zM377 445h1v1h-1zM378 446h1v1h-1zM379 447h1v1h-1zM380 448h1v1h-1zM381 449h1v2h-1zM382 451h1v1h-1zM383 452h1v1h-1zM384 453h1v1h-1zM385 454h1v1h-1zM386 455h1v1h-1zM387 456h2v1h-2zM389 457h2v1h-2zM391 458h3v1h-3zM394 459h12v1h-12zM406 460h4v1h-4zM410 461h3v1h-3zM413 462h2v1h-2zM415 463h7v1h-7zM422 464h7v1h-7zM429 465h2v1h-2zM431 466h3v1h-3zM434 467h4v1h-4zM438 468h4v1h-4zM442 469h4v1h-4zM446 468h24v1h-24zM470 469h2v1h-2zM472 470h2v1h-2zM474 471h1v1h-1zM475 472h1v1h-1zM476 473h1v1h-1zM477 474h1v1h-1zM478 475h1v1h-1zM479 476h1v1h-1zM480 477h1v1h-1zM481 478h1v2h-1zM482 480h1v1h-1zM483 481h1v1h-1zM484 482h2v1h-2zM486 483h1v1h-1zM487 484h1v1h-1zM488 485h2v1h-2zM490 486h1v1h-1zM491 487h2v1h-2zM493 488h2v1h-2zM495 489h1v1h-1zM496 490h2v1h-2zM498 491h1v1h-1zM499 492h1v1h-1zM500 493h2v1h-2zM502 494h1v1h-1zM503 495h1v1h-1zM504 496h1v1h-1zM505 497h1v1h-1zM506 498h1v1h-1zM507 499h3v1h-3zM510 500h4v1h-4zM514 501h8v1h-8zM522 502h12v1h-12zM534 503h4v1h-4zM538 502h2v1h-2zM540 501h1v1h-1zM541 499h1v2h-1zM542 498h1v1h-1zM543 497h1v1h-1zM544 496h1v1h-1zM545 494h1v2h-1zM546 493h1v1h-1zM547 492h1v1h-1zM548 491h1v1h-1zM549 489h1v2h-1zM550 488h1v1h-1zM551 487h1v1h-1zM552 485h1v2h-1zM553 484h1v1h-1zM554 482h1v2h-1zM555 481h1v1h-1zM556 479h1v2h-1zM557 478h1v1h-1zM558 476h1v2h-1zM559 475h1v1h-1zM560 473h1v2h-1zM561 472h1v1h-1zM562 470h1v2h-1zM563 469h1v1h-1zM564 468h1v1h-1zM565 466h1v2h-1zM566 465h1v1h-1zM567 464h1v1h-1zM568 462h1v2h-1zM569 461h1v1h-1zM570 459h1v2h-1zM571 458h1v1h-1zM572 457h1v1h-1zM573 455h1v2h-1zM574 454h1v1h-1zM575 453h1v1h-1zM576 452h2v1h-2zM578 451h1v1h-1zM579 450h1v1h-1zM580 449h1v1h-1zM581 447h1v2h-1zM582 446h1v1h-1zM583 445h1v1h-1zM584 444h1v1h-1zM585 442h1v2h-1zM586 441h1v1h-1zM587 440h1v1h-1zM588 439h2v1h-2zM590 438h1v1h-1zM591 437h1v1h-1zM592 436h1v1h-1zM593 434h1v2h-1zM594 433h1v1h-1zM595 432h1v1h-1zM596 430h1v2h-1zM597 429h1v1h-1zM598 427h1v2h-1zM599 426h1v1h-1zM600 424h1v2h-1zM601 423h1v1h-1zM602 421h1v2h-1zM603 420h1v1h-1zM604 418h1v2h-1zM605 417h1v1h-1zM606 415h1v2h-1zM607 414h1v1h-1zM608 413h1v1h-1zM609 411h1v2h-1zM610 410h1v1h-1zM611 409h1v1h-1zM612 408h1v1h-1zM613 406h1v2h-1zM614 405h1v1h-1zM615 404h1v1h-1zM616 403h2v1h-2zM618 402h1v1h-1zM619 401h1v1h-1zM620 400h1v1h-1zM621 399h1v1h-1zM622 398h1v1h-1zM623 397h1v1h-1zM624 396h1v1h-1zM625 394h1v2h-1zM626 393h1v1h-1zM627 392h1v1h-1zM628 390h1v2h-1zM629 389h1v1h-1zM630 387h1v2h-1zM631 386h1v1h-1zM632 384h1v2h-1zM633 382h1v2h-1zM634 380h1v2h-1zM635 379h1v1h-1zM636 377h1v2h-1zM637 375h1v2h-1zM638 373h1v2h-1zM639 372h1v1h-1zM640 370h1v2h-1zM641 368h1v2h-1zM642 366h1v2h-1zM643 364h1v2h-1zM644 362h1v2h-1zM645 360h1v2h-1zM646 358h1v2h-1zM647 355h1v3h-1zM648 353h1v2h-1zM649 351h1v2h-1zM650 349h1v2h-1zM651 347h1v2h-1zM652 345h1v2h-1zM653 343h1v2h-1zM654 341h1v2h-1zM655 339h1v2h-1zM656 337h1v2h-1zM657 334h1v3h-1zM658 332h1v2h-1zM659 329h1v3h-1zM660 326h1v3h-1zM661 324h1v2h-1zM662 321h1v3h-1zM663 318h1v3h-1zM664 315h1v3h-1zM665 312h1v3h-1zM666 309h1v3h-1zM667 306h1v3h-1zM668 302h1v4h-1zM669 299h1v3h-1zM670 295h1v4h-1zM671 291h1v4h-1zM672 287h1v4h-1zM673 283h1v4h-1zM674 279h1v4h-1zM675 275h1v4h-1zM676 272h1v3h-1zM677 269h1v3h-1zM678 266h1v3h-1zM679 263h1v3h-1zM680 260h1v3h-1zM681 256h1v4h-1zM682 253h1v3h-1zM683 250h1v3h-1zM684 247h1v3h-1zM685 244h1v3h-1zM686 241h1v3h-1zM687 238h1v3h-1zM688 235h1v3h-1zM689 233h1v2h-1zM690 230h1v3h-1zM691 227h1v3h-1zM692 225h1v2h-1zM693 222h1v3h-1zM694 220h1v2h-1zM695 217h1v3h-1zM696 214h1v3h-1zM697 212h1v2h-1zM698 209h1v3h-1zM699 206h1v3h-1zM700 204h1v2h-1zM701 202h1v2h-1zM702 200h1v2h-1zM703 197h1v3h-1zM704 195h1v2h-1zM705 193h1v2h-1zM706 191h1v2h-1zM707 190h1v1h-1zM708 189h1v1h-1zM709 187h1v2h-1zM710 186h1v1h-1zM711 185h1v1h-1zM712 184h1v1h-1zM713 183h1v1h-1zM714 182h1v1h-1zM715 181h1v1h-1zM716 180h1v1h-1zM717 178h1v2h-1zM718 177h1v1h-1zM719 176h1v1h-1zM720 174h1v2h-1zM721 173h1v1h-1zM722 171h1v2h-1zM723 170h2v1h-2zM725 169h2v1h-2zM727 168h2v1h-2zM729 167h2v1h-2zM731 166h3v1h-3zM734 165h3v1h-3zM737 164h2v1h-2zM739 163h3v1h-3zM742 164h2v1h-2zM744 165h2v1h-2zM746 166h1v1h-1zM747 167h1v1h-1zM748 168h1v2h-1zM749 170h1v1h-1zM750 171h1v2h-1zM751 173h1v2h-1zM752 175h1v2h-1zM753 177h1v3h-1zM754 180h1v2h-1zM755 182h1v2h-1zM756 184h1v2h-1zM757 186h1v1h-1zM758 187h1v2h-1zM759 189h1v2h-1zM760 191h1v2h-1zM761 193h1v2h-1zM762 195h1v2h-1zM763 197h1v3h-1zM764 200h1v2h-1zM765 202h1v3h-1zM766 205h1v2h-1zM767 207h1v3h-1zM768 210h1v2h-1zM769 212h1v2h-1zM770 214h1v2h-1zM771 216h1v1h-1zM772 217h1v2h-1zM773 219h1v2h-1zM774 221h1v2h-1zM775 223h1v1h-1zM776 224h1v2h-1zM777 226h1v2h-1zM778 228h1v2h-1zM779 230h1v2h-1zM780 232h1v2h-1zM781 234h1v2h-1zM782 236h1v2h-1zM783 238h1v3h-1zM784 241h1v2h-1zM785 243h1v2h-1zM786 245h1v2h-1zM787 247h1v3h-1zM788 250h1v2h-1zM789 252h1v2h-1zM790 254h1v2h-1zM791 256h1v1h-1zM792 257h1v2h-1zM793 259h1v2h-1zM794 261h1v2h-1zM795 263h1v1h-1zM796 264h1v2h-1zM797 266h1v1h-1zM798 267h1v2h-1zM799 269h1v1h-1zM800 270h1v2h-1zM801 272h1v2h-1zM802 274h1v2h-1zM803 276h1v1h-1zM804 277h1v1h-1zM805 278h1v2h-1zM806 280h1v1h-1zM807 281h1v1h-1zM808 282h1v2h-1zM809 284h1v1h-1zM810 285h1v2h-1zM811 287h1v1h-1zM812 288h1v1h-1zM813 289h1v2h-1zM814 291h1v1h-1zM815 292h1v1h-1zM816 293h1v2h-1zM817 295h1v1h-1zM818 296h1v2h-1zM819 298h1v1h-1zM820 299h2v1h-2zM822 300h1v1h-1zM823 301h1v1h-1zM824 302h2v1h-2zM826 303h1v1h-1zM827 304h1v1h-1zM828 305h1v1h-1zM829 306h1v2h-1zM830 308h1v1h-1zM831 309h2v1h-2zM833 310h2v1h-2zM835 311h1v1h-1zM836 312h2v1h-2zM838 313h1v1h-1zM839 314h2v1h-2zM841 315h2v1h-2zM843 316h3v1h-3zM846 317h8v1h-8zM854 318h7v1h-7zM861 317h2v1h-2zM863 316h3v1h-3zM866 315h8v1h-8zM874 314h3v1h-3zM877 313h2v1h-2zM879 312h1v1h-1zM880 311h2v1h-2zM882 310h1v1h-1zM883 309h1v1h-1zM884 308h1v1h-1zM885 306h1v2h-1zM886 305h1v1h-1zM887 304h1v1h-1zM888 303h1v1h-1zM889 301h1v2h-1zM890 300h1v1h-1zM891 299h1v1h-1zM892 298h1v1h-1zM893 296h1v2h-1zM894 295h1v1h-1zM895 294h1v1h-1zM896 293h1v1h-1zM897 291h1v2h-1zM898 290h1v1h-1zM899 289h1v1h-1zM900 287h1v2h-1zM901 286h1v1h-1zM902 284h1v2h-1zM903 283h1v1h-1zM904 281h1v2h-1zM905 280h1v1h-1zM906 278h1v2h-1zM907 277h1v1h-1zM908 275h1v2h-1zM909 274h1v1h-1zM910 272h1v2h-1zM911 271h1v1h-1zM912 270h1v1h-1zM913 269h1v1h-1zM914 268h1v1h-1zM915 267h1v1h-1zM916 266h1v1h-1zM917 264h1v2h-1zM918 263h1v1h-1zM919 262h1v1h-1zM920 260h1v2h-1zM921 258h1v2h-1zM922 256h1v2h-1zM923 255h1v1h-1zM924 253h1v2h-1zM925 251h1v2h-1zM926 249h1v2h-1zM927 248h1v1h-1zM928 247h2v1h-2zM930 246h1v1h-1zM931 245h1v1h-1zM932 244h1v1h-1zM933 242h1v2h-1zM934 241h1v1h-1zM935 240h1v1h-1zM936 239h1v1h-1zM937 238h1v1h-1zM938 237h1v1h-1zM939 236h1v1h-1zM940 235h2v1h-2zM942 234h1v1h-1zM943 233h2v1h-2zM945 232h2v1h-2zM947 231h1v1h-1zM948 230h2v1h-2zM950 229h1v1h-1zM951 228h1v1h-1zM952 227h2v1h-2zM954 226h1v1h-1zM955 225h6v1h-6zM961 226h2v1h-2zM963 227h2v1h-2zM965 228h2v1h-2zM967 229h1v1h-1zM968 230h2v1h-2zM970 231h1v1h-1zM971 232h2v1h-2zM973 233h2v1h-2zM975 234h2v1h-2zM977 235h2v1h-2zM979 236h2v1h-2zM981 237h2v1h-2zM983 238h3v1h-3zM986 239h3v1h-3zM989 240h2v1h-2zM991 241h2v1h-2zM993 242h2v1h-2zM995 243h3v1h-3zM998 244h2v1h-2zM1000 245h1v1h-1zM1001 246h1v1h-1zM1002 247h1v1h-1zM1003 248h1v1h-1zM1004 249h2v1h-2zM1006 250h1v1h-1zM1007 251h3v1h-3zM1010 252h3v1h-3zM1013 253h2v1h-2zM1015 254h2v1h-2zM1017 255h2v1h-2zM1019 256h3v1h-3zM1022 257h3v1h-3zM1025 258h2v1h-2zM1027 259h1v1h-1zM1028 260h2v1h-2zM1030 261h1v1h-1zM1031 262h2v1h-2zM1033 263h2v1h-2zM1035 264h7v1h-7zM1042 265h3v1h-3zM1045 266h2v1h-2zM1047 267h2v1h-2zM1049 268h2v1h-2zM1051 269h1v1h-1zM1052 270h2v1h-2zM1054 271h1v1h-1zM1055 272h1v1h-1zM1056 273h1v1h-1zM1057 274h1v1h-1zM1058 275h1v1h-1zM1059 276h1v1h-1zM1060 277h1v1h-1zM1061 278h1v1h-1zM1062 279h1v1h-1zM1063 280h1v1h-1zM1064 281h1v1h-1zM1065 282h1v1h-1zM1066 283h1v1h-1zM1067 284h1v1h-1zM1068 285h2v1h-2zM1070 286h1v1h-1zM1071 287h1v1h-1zM1072 288h1v1h-1zM1073 289h1v2h-1zM1074 291h1v1h-1zM1075 292h1v1h-1zM1076 293h1v1h-1zM1077 294h1v2h-1zM1078 296h1v1h-1zM1079 297h1v1h-1zM1080 298h1v1h-1zM1081 299h1v2h-1zM1082 301h1v1h-1zM1083 302h1v1h-1zM1084 303h1v1h-1zM1085 304h1v1h-1zM1086 305h1v1h-1zM1087 306h1v1h-1zM1088 307h1v1h-1zM1089 308h1v2h-1zM1090 310h1v1h-1zM1091 311h1v1h-1zM1092 312h1v1h-1zM1093 313h1v1h-1zM1094 314h1v1h-1zM1095 315h1v1h-1zM1096 316h1v1h-1zM1097 317h1v1h-1zM1098 318h1v1h-1zM1099 319h1v1h-1zM1100 320h2v1h-2zM1102 321h1v1h-1zM1103 322h2v1h-2zM1105 323h2v1h-2zM1107 324h3v1h-3zM1110 325h3v1h-3zM1113 326h2v1h-2zM1115 327h2v1h-2zM1117 328h2v1h-2zM1119 329h1v1h-1zM1120 330h2v1h-2zM1122 331h1v1h-1zM1123 332h3v1h-3zM1126 333h2v1h-2zM1128 334h2v1h-2zM1130 335h1v1h-1zM1131 336h3v1h-3zM1134 337h8v1h-8zM1142 338h4v1h-4zM1146 339h12v1h-12zM1158 338h4v1h-4zM1162 337h3v1h-3zM1165 336h2v1h-2zM1167 335h6v1h-6zM1173 334h2v1h-2zM1175 333h1v1h-1zM1176 332h2v1h-2zM1178 331h1v1h-1zM1179 330h2v1h-2zM1181 329h2v1h-2zM1183 328h2v1h-2zM1185 327h2v1h-2zM1187 326h2v1h-2zM1189 327h2v1h-2zM1191 328h7v1h-7zM1198 329h8v1h-8zM1206 330h3v1h-3zM1209 329h2v1h-2z" fill="#3cb371" shape-rendering="crispEdges"/>
<path d="M3 408h1v2h-1zM4 406h1v2h-1zM5 404h1v2h-1zM6 402h1v2h-1zM7 401h2v1h-2zM9 400h2v1h-2zM11 399h3v1h-3zM14 400h3v1h-3zM17 401h2v1h-2zM19 402h1v1h-1zM20 403h2v1h-2zM22 404h1v1h-1zM23 405h6v1h-6zM29 404h2v1h-2zM31 403h3v1h-3zM34 402h8v1h-8zM42 403h3v1h-3zM45 404h2v1h-2zM47 405h3v1h-3zM50 406h3v1h-3zM53 407h2v1h-2zM55 408h1v1h-1zM56 409h2v1h-2zM58 410h1v1h-1zM59 411h2v1h-2zM61 412h2v1h-2zM63 413h1v1h-1zM64 414h2v1h-2zM66 415h1v1h-1zM67 416h1v1h-1zM68 417h2v1h-2zM70 418h1v1h-1zM71 419h1v1h-1zM72 420h2v1h-2zM74 421h1v1h-1zM75 422h10v1h-10zM85 421h2v1h-2zM87 420h3v1h-3zM90 421h4v1h-4zM94 420h3v1h-3zM97 421h2v1h-2zM99 422h6v1h-6zM105 423h2v1h-2zM107 424h1v1h-1zM108 425h2v1h-2zM110 426h1v1h-1zM111 427h1v1h-1zM112 428h2v1h-2zM114 429h1v1h-1zM115 430h1v1h-1zM116 431h1v1h-1zM117 432h1v2h-1zM118 434h1v1h-1zM119 435h3v1h-3zM122 436h3v1h-3zM125 435h2v1h-2zM127 434h1v1h-1zM128 435h2v1h-2zM130 436h1v1h-1zM131 437h3v1h-3zM134 438h4v1h-4zM138 437h3v1h-3zM141 436h2v1h-2zM143 435h1v1h-1zM144 434h1v1h-1zM145 433h1v1h-1zM146 432h1v1h-1zM147 431h1v1h-1zM148 429h1v2h-1zM149 428h1v1h-1zM150 426h1v2h-1zM151 425h1v1h-1zM152 423h1v2h-1zM153 422h1v1h-1zM154 420h1v2h-1zM155 419h1v1h-1zM156 417h1v2h-1zM157 415h1v2h-1zM158 413h1v2h-1zM159 411h1v2h-1zM160 408h1v3h-1zM161 406h1v2h-1zM162 403h1v3h-1zM163 400h1v3h-1zM164 398h1v2h-1zM165 396h1v2h-1zM166 394h1v2h-1zM167 391h1v3h-1zM168 388h1v3h-1zM169 385h1v3h-1zM170 382h1v3h-1zM171 379h1v3h-1zM172 377h1v2h-1zM173 375h1v2h-1zM174 373h1v2h-1zM175 371h1v2h-1zM176 370h1v1h-1zM177 369h1v1h-1zM178 368h1v1h-1zM179 367h1v1h-1zM180 366h2v1h-2zM182 365h1v1h-1zM183 364h3v1h-3zM186 365h10v1h-10zM196 366h1v1h-1zM197 367h1v2h-1zM198 369h1v1h-1zM199 370h15v1h-15zM214 369h8v1h-8zM222 370h2v1h-2zM224 371h1v1h-1zM225 372h1v1h-1zM226 373h1v1h-1zM227 374h1v1h-1zM228 375h1v1h-1zM229 376h1v2h-1zM230 378h1v1h-1zM231 379h1v1h-1zM232 380h1v1h-1zM233 381h1v2h-1zM234 383h1v1h-1zM235 384h1v1h-1zM236 385h1v1h-1zM237 386h1v1h-1zM238 387h1v1h-1zM239 388h1v1h-1zM240 389h2v1h-2zM242 390h1v1h-1zM243 391h1v1h-1zM244 392h1v1h-1zM245 393h1v1h-1zM246 394h1v1h-1zM247 395h3v1h-3zM250 394h2v1h-2zM252 395h1v2h-1zM253 397h1v1h-1zM254 398h1v2h-1zM255 400h1v1h-1zM256 401h1v1h-1zM257 402h1v2h-1zM258 404h1v1h-1zM259 405h3v1h-3zM262 406h2v1h-2zM264 407h1v1h-1zM265 408h1v2h-1zM266 410h1v1h-1zM267 411h1v1h-1zM268 412h1v2h-1zM269 414h1v2h-1zM270 416h1v2h-1zM271 418h1v2h-1zM272 420h1v3h-1zM273 423h1v2h-1zM274 425h1v3h-1zM275 428h1v3h-1zM276 431h1v2h-1zM277 433h1v3h-1zM278 436h1v2h-1zM279 438h1v3h-1zM280 441h1v2h-1zM281 443h1v2h-1zM282 445h1v2h-1zM283 447h1v2h-1zM284 448h2v1h-2zM286 449h4v1h-4zM290 448h3v1h-3zM293 447h2v1h-2zM295 446h3v1h-3zM298 445h4v1h-4zM302 444h7v1h-7zM309 445h2v1h-2zM311 446h1v1h-1zM312 447h1v1h-1zM313 448h1v1h-1zM314 449h1v1h-1zM315 450h2v1h-2zM317 451h2v1h-2zM319 452h3v1h-3zM322 453h3v1h-3zM325 454h2v1h-2zM327 455h2v1h-2zM329 454h2v1h-2zM331 453h2v1h-2zM333 454h2v1h-2zM335 455h1v1h-1zM336 456h1v1h-1zM337 457h1v1h-1zM338 458h1v1h-1zM339 459h3v1h-3zM342 460h4v1h-4zM346 461h2v1h-2zM348 462h2v1h-2zM350 463h1v1h-1zM351 464h1v1h-1zM352 465h1v1h-1zM353 466h1v1h-1zM354 467h1v1h-1zM355 468h1v1h-1zM356 469h1v2h-1zM357 471h1v1h-1zM358 472h1v2h-1zM359 474h2v1h-2zM361 475h2v1h-2zM363 476h1v1h-1zM364 477h1v2h-1zM365 479h1v1h-1zM366 480h1v2h-1zM367 482h1v1h-1zM368 483h1v1h-1zM369 484h1v1h-1zM370 485h1v1h-1zM371 486h1v1h-1zM372 487h1v1h-1zM373 488h1v1h-1zM374 489h1v1h-1zM375 490h3v1h-3zM378 491h2v1h-2zM380 492h1v1h-1zM381 493h1v2h-1zM382 495h1v1h-1zM383 496h1v1h-1zM384 497h2v1h-2zM386 498h1v1h-1zM387 499h11v1h-11zM398 498h8v1h-8zM406 497h8v1h-8zM414 496h12v1h-12zM426 495h3v1h-3zM429 496h2v1h-2zM431 497h2v1h-2zM433 498h2v1h-2zM435 499h3v1h-3zM438 500h3v1h-3zM441 501h2v1h-2zM443 502h11v1h-11zM454 501h8v1h-8zM462 500h7v1h-7zM469 501h2v1h-2zM471 502h1v2h-1zM472 504h1v3h-1zM473 507h1v2h-1zM474 509h1v3h-1zM475 512h1v2h-1zM476 514h1v1h-1zM477 515h1v2h-1zM478 517h1v1h-1zM479 518h1v1h-1zM480 519h2v1h-2zM482 520h1v1h-1zM483 521h1v1h-1zM484 522h1v1h-1zM485 523h1v1h-1zM486 524h1v1h-1zM487 525h1v1h-1zM488 526h1v1h-1zM489 527h1v1h-1zM490 528h1v1h-1zM491 529h1v1h-1zM492 530h2v1h-2zM494 531h1v1h-1zM495 532h3v1h-3zM498 533h2v1h-2zM500 534h2v1h-2zM502 535h1v1h-1zM503 536h2v1h-2zM505 537h2v1h-2zM507 538h15v1h-15zM522 537h8v1h-8zM530 536h6v1h-6zM536 537h2v1h-2zM538 538h1v1h-1zM539 539h1v3h-1zM540 542h1v4h-1zM541 546h1v4h-1zM542 550h1v4h-1zM543 554h1v4h-1zM544 558h1v3h-1zM545 561h1v2h-1zM546 563h1v3h-1zM567 565h1v1h-1zM568 564h1v1h-1zM569 563h1v1h-1zM570 562h1v1h-1zM571 561h1v1h-1zM572 559h1v2h-1zM573 557h1v2h-1zM574 555h1v2h-1zM575 554h1v1h-1zM576 552h1v2h-1zM577 551h1v1h-1zM578 549h1v2h-1zM579 547h1v2h-1zM580 544h1v3h-1zM581 541h1v3h-1zM582 538h1v3h-1zM583 535h1v3h-1zM584 532h1v3h-1zM585 529h1v3h-1zM586 526h1v3h-1zM587 523h1v3h-1zM588 521h1v2h-1zM589 519h1v2h-1zM590 517h1v2h-1zM591 514h1v3h-1zM592 512h1v2h-1zM593 510h1v2h-1zM594 508h1v2h-1zM595 505h1v3h-1zM596 503h1v2h-1zM597 501h1v2h-1zM598 499h1v2h-1zM599 496h1v3h-1zM600 494h1v2h-1zM601 492h1v2h-1zM602 490h1v2h-1zM603 487h1v3h-1zM604 485h1v2h-1zM605 483h1v2h-1zM606 481h1v2h-1zM607 479h1v2h-1zM608 477h1v2h-1zM609 474h1v3h-1zM610 472h1v2h-1zM611 469h1v3h-1zM612 465h1v4h-1zM613 462h1v3h-1zM614 458h1v4h-1zM615 455h1v3h-1zM616 453h1v2h-1zM617 450h1v3h-1zM618 448h1v2h-1zM619 446h1v2h-1zM620 447h1v2h-1zM621 449h1v2h-1zM622 451h1v2h-1zM623 453h1v2h-1zM624 455h1v3h-1zM625 458h1v2h-1zM626 460h1v3h-1zM627 463h1v3h-1zM628 466h1v3h-1zM629 469h1v4h-1zM630 473h1v3h-1zM631 476h1v3h-1zM632 479h1v2h-1zM633 481h1v2h-1zM634 483h1v2h-1zM635 485h1v2h-1zM636 487h1v2h-1zM637 489h1v1h-1zM638 490h1v2h-1zM639 492h7v1h-7zM646 491h4v1h-4zM650 492h2v1h-2zM652 491h1v1h-1zM653 489h1v2h-1zM654 488h1v1h-1zM655 486h1v2h-1zM656 483h1v3h-1zM657 480h1v3h-1zM658 477h1v3h-1zM659 474h1v3h-1zM660 471h1v3h-1zM661 467h1v4h-1zM662 464h1v3h-1zM663 461h1v3h-1zM664 458h1v3h-1zM665 454h1v4h-1zM666 451h1v3h-1zM667 448h1v3h-1zM668 446h1v2h-1zM669 444h1v2h-1zM670 442h1v2h-1zM671 441h3v1h-3zM674 442h2v1h-2zM676 440h1v2h-1zM677 439h1v1h-1zM678 437h1v2h-1zM679 435h1v2h-1zM680 433h1v2h-1zM681 431h1v2h-1zM682 429h1v2h-1zM683 426h1v3h-1zM684 423h1v3h-1zM685 419h1v4h-1zM686 416h1v3h-1zM687 412h1v4h-1zM688 407h1v5h-1zM689 403h1v4h-1zM690 398h1v5h-1zM691 392h1v6h-1zM692 386h1v6h-1zM693 379h1v7h-1zM694 373h1v6h-1zM695 366h1v7h-1zM696 358h1v8h-1zM697 350h1v8h-1zM698 342h1v8h-1zM699 336h1v6h-1zM700 331h1v5h-1zM701 326h1v5h-1zM702 321h1v5h-1zM703 317h1v4h-1zM704 314h1v3h-1zM705 310h1v4h-1zM706 307h1v3h-1zM707 304h1v3h-1zM708 302h1v2h-1zM709 300h1v2h-1zM710 298h1v2h-1zM711 295h1v3h-1zM712 293h1v2h-1zM713 290h1v3h-1zM714 288h1v2h-1zM715 285h1v3h-1zM716 283h1v2h-1zM717 280h1v3h-1zM718 278h1v2h-1zM719 275h1v3h-1zM720 272h1v3h-1zM721 268h1v4h-1zM722 265h1v3h-1zM723 263h1v2h-1zM724 261h1v2h-1zM725 259h1v2h-1zM726 257h1v2h-1zM727 256h1v1h-1zM728 254h1v2h-1zM729 252h1v2h-1zM730 250h1v2h-1zM731 249h1v1h-1zM732 247h1v2h-1zM733 246h1v1h-1zM734 244h1v2h-1zM735 242h1v2h-1zM736 240h1v2h-1zM737 238h1v2h-1zM738 236h1v2h-1zM739 235h1v1h-1zM740 236h1v1h-1zM741 237h1v2h-1zM742 239h1v1h-1zM743 240h1v2h-1zM744 242h1v4h-1zM745 246h1v4h-1zM746 250h1v4h-1zM747 254h1v3h-1zM748 257h1v3h-1zM749 260h1v3h-1zM750 263h1v3h-1zM751 266h1v2h-1zM752 268h1v2h-1zM753 270h1v2h-1zM754 272h1v2h-1zM755 274h1v2h-1zM756 276h1v2h-1zM757 278h1v2h-1zM758 280h1v2h-1zM759 282h1v3h-1zM760 285h1v4h-1zM761 289h1v4h-1zM762 293h1v4h-1zM763 297h1v4h-1zM764 301h1v4h-1zM765 305h1v4h-1zM766 309h1v4h-1zM767 313h1v5h-1zM768 318h1v5h-1zM769 323h1v4h-1zM770 327h1v5h-1zM771 332h1v4h-1zM772 336h1v3h-1zM773 339h1v2h-1zM774 341h1v3h-1zM775 344h1v3h-1zM776 347h1v2h-1zM777 349h1v3h-1zM778 352h1v2h-1zM779 354h1v3h-1zM780 357h1v3h-1zM781 360h1v2h-1zM782 362h1v3h-1zM783 365h1v2h-1zM784 367h1v1h-1zM785 368h1v2h-1zM786 370h1v1h-1zM787 371h1v1h-1zM788 372h2v1h-2zM790 373h1v1h-1zM791 374h3v1h-3zM794 375h2v1h-2zM796 374h2v1h-2zM798 373h1v1h-1zM799 371h1v2h-1zM800 369h1v2h-1zM801 367h1v2h-1zM802 365h1v2h-1zM803 363h1v2h-1zM804 363h4v1h-4zM808 362h1v1h-1zM809 360h1v2h-1zM810 359h1v1h-1zM811 358h2v1h-2zM813 357h2v1h-2zM815 355h1v2h-1zM816 353h1v2h-1zM817 351h1v2h-1zM818 349h1v2h-1zM819 348h3v1h-3zM822 347h3v1h-3zM825 348h2v1h-2zM827 349h6v1h-6zM833 348h2v1h-2zM835 347h1v1h-1zM836 345h1v2h-1zM837 343h1v2h-1zM838 341h1v2h-1zM839 340h1v1h-1zM840 341h1v2h-1zM841 343h1v1h-1zM842 344h1v2h-1zM843 346h2v1h-2zM845 347h2v1h-2zM847 348h3v1h-3zM850 347h4v1h-4zM854 348h8v1h-8zM862 347h4v1h-4zM866 346h4v1h-4zM870 347h4v1h-4zM874 348h2v1h-2zM876 349h1v1h-1zM877 350h1v2h-1zM878 352h1v1h-1zM879 353h1v2h-1zM880 355h1v4h-1zM881 359h1v3h-1zM882 362h1v4h-1zM883 366h1v3h-1zM884 369h1v2h-1zM885 371h1v2h-1zM886 373h1v2h-1zM887 375h1v2h-1zM888 377h1v2h-1zM889 379h1v2h-1zM890 381h1v2h-1zM891 383h2v1h-2zM893 384h2v1h-2zM895 385h3v1h-3zM898 386h6v1h-6zM904 385h1v1h-1zM905 383h1v2h-1zM906 382h1v1h-1zM907 381h1v1h-1zM908 379h1v2h-1zM909 377h1v2h-1zM910 375h1v2h-1zM911 374h1v1h-1zM912 373h1v1h-1zM913 372h1v1h-1zM914 371h1v1h-1zM915 370h1v1h-1zM916 368h1v2h-1zM917 367h1v1h-1zM918 365h1v2h-1zM919 363h1v2h-1zM920 360h1v3h-1zM921 357h1v3h-1zM922 354h1v3h-1zM923 351h1v3h-1zM924 348h1v3h-1zM925 345h1v3h-1zM926 342h1v3h-1zM927 339h1v3h-1zM928 337h1v2h-1zM929 334h1v3h-1zM930 332h1v2h-1zM931 329h1v3h-1zM932 326h1v3h-1zM933 322h1v4h-1zM934 319h1v3h-1zM935 316h1v3h-1zM936 313h1v3h-1zM937 311h1v2h-1zM938 308h1v3h-1zM939 305h1v3h-1zM940 303h1v2h-1zM941 300h1v3h-1zM942 298h1v2h-1zM943 295h1v3h-1zM944 292h1v3h-1zM945 290h1v2h-1zM946 287h1v3h-1zM947 284h1v3h-1zM948 281h1v3h-1zM949 278h1v3h-1zM950 275h1v3h-1zM951 272h1v3h-1zM952 269h1v3h-1zM953 266h1v3h-1zM954 263h1v3h-1zM955 261h1v2h-1zM956 261h4v1h-4zM960 262h1v1h-1zM961 263h1v1h-1zM962 264h1v1h-1zM963 265h1v1h-1zM964 266h2v1h-2zM966 267h1v1h-1zM967 268h1v1h-1zM968 269h2v1h-2zM970 270h1v1h-1zM971 271h1v1h-1zM972 272h2v1h-2zM974 273h1v1h-1zM975 274h3v1h-3zM978 275h11v1h-11zM989 276h2v1h-2zM991 277h3v1h-3zM994 278h7v1h-7zM1001 277h2v1h-2zM1003 276h1v1h-1zM1004 275h1v1h-1zM1005 274h1v1h-1zM1006 273h1v1h-1zM1007 272h2v1h-2zM1009 273h2v1h-2zM1011 274h1v1h-1zM1012 275h2v1h-2zM1014 276h1v1h-1zM1015 277h1v1h-1zM1016 278h2v1h-2zM1018 279h1v1h-1zM1019 280h2v1h-2zM1021 281h2v1h-2zM1023 282h1v2h-1zM1024 284h1v2h-1zM1025 286h1v2h-1zM1026 288h1v2h-1zM1027 290h3v1h-3zM1030 291h4v1h-4zM1034 290h4v1h-4zM1038 291h6v1h-6zM1044 292h2v1h-2zM1046 293h1v1h-1zM1047 294h1v1h-1zM1048 295h1v1h-1zM1049 296h1v1h-1zM1050 297h1v1h-1zM1051 298h1v2h-1zM1052 300h1v2h-1zM1053 302h1v2h-1zM1054 304h1v2h-1zM1055 306h1v3h-1zM1056 309h1v3h-1zM1057 312h1v3h-1zM1058 315h1v3h-1zM1059 318h1v2h-1zM1060 320h1v2h-1zM1061 322h1v2h-1zM1062 324h1v2h-1zM1063 326h1v1h-1zM1064 327h1v2h-1zM1065 329h1v1h-1zM1066 330h1v2h-1zM1067 332h1v1h-1zM1068 333h1v1h-1zM1069 334h1v1h-1zM1070 335h1v1h-1zM1071 336h1v2h-1zM1072 338h1v3h-1zM1073 341h1v2h-1zM1074 343h1v3h-1zM1075 346h1v3h-1zM1076 349h1v2h-1zM1077 351h1v2h-1zM1078 353h1v2h-1zM1079 355h1v2h-1zM1080 357h1v2h-1zM1081 359h1v2h-1zM1082 361h1v2h-1zM1083 363h1v2h-1zM1084 365h1v2h-1zM1085 367h1v2h-1zM1086 369h1v2h-1zM1087 371h1v2h-1zM1088 373h1v2h-1zM1089 375h1v2h-1zM1090 377h1v2h-1zM1091 379h1v1h-1zM1092 380h1v1h-1zM1093 381h1v1h-1zM1094 382h1v1h-1zM1095 383h1v1h-1zM1096 384h1v1h-1zM1097 385h1v1h-1zM1098 386h1v1h-1zM1099 387h3v1h-3zM1102 388h4v1h-4zM1106 389h4v1h-4zM1110 388h2v1h-2zM1112 387h2v1h-2zM1114 386h1v1h-1zM1115 385h2v1h-2zM1117 384h2v1h-2zM1119 383h1v1h-1zM1120 382h1v1h-1zM1121 381h1v1h-1zM1122 380h1v1h-1zM1123 379h1v1h-1zM1124 378h2v1h-2zM1126 377h1v1h-1zM1127 376h3v1h-3zM1130 375h16v1h-16zM1146 376h8v1h-8zM1154 375h4v1h-4zM1158 374h4v1h-4zM1162 373h2v1h-2zM1164 372h2v1h-2zM1166 371h1v1h-1zM1167 370h1v1h-1zM1168 369h1v1h-1zM1169 368h1v1h-1zM1170 367h1v1h-1zM1171 366h2v1h-2zM1173 365h2v1h-2zM1175 364h2v1h-2zM1177 363h2v1h-2zM1179 362h3v1h-3zM1182 363h4v1h-4zM1186 362h4v1h-4zM1190 361h4v1h-4zM1194 360h3v1h-3zM1197 361h2v1h-2zM1199 362h11v1h-11zM1210 361h1v1h-1z" fill="#3cb371" shape-rendering="crispEdges"/>
<clipPath id="cs"><rect x="3" y="569" width="1220" height="127"/></clipPath>
<path d="M3 604h1v2h-1zM4 606h1v2h-1zM5 608h1v2h-1zM6 610h1v2h-1zM7 612h1v3h-1zM8 615h1v3h-1zM9 618h1v2h-1zM10 620h1v3h-1zM11 623h1v2h-1zM12 624h3v1h-3zM15 624h1v2h-1zM16 626h1v2h-1zM17 628h1v3h-1zM18 631h1v2h-1zM19 633h1v2h-1zM20 635h1v2h-1zM21 637h1v1h-1zM22 638h1v2h-1zM23 639h1v2h-1zM24 637h1v2h-1zM25 635h1v2h-1zM26 633h1v2h-1zM27 631h1v2h-1zM28 629h1v2h-1zM29 627h1v2h-1zM30 625h1v2h-1zM31 624h1v1h-1zM32 625h1v1h-1zM33 626h1v2h-1zM34 628h1v1h-1zM35 629h3v1h-3zM38 630h2v1h-2zM40 629h1v1h-1zM41 628h1v1h-1zM42 627h1v1h-1zM43 626h1v2h-1zM44 628h1v3h-1zM45 631h1v3h-1zM46 634h1v3h-1zM47 637h1v2h-1zM48 634h1v3h-1zM49 632h1v2h-1zM50 629h1v3h-1zM51 627h1v2h-1zM52 629h1v3h-1zM53 632h1v2h-1zM54 634h1v3h-1zM55 637h1v2h-1zM56 638h2v1h-2zM58 637h4v1h-4zM62 636h4v1h-4zM66 637h2v1h-2zM68 638h1v1h-1zM69 639h1v1h-1zM70 640h1v1h-1zM71 641h1v1h-1zM72 640h1v1h-1zM73 639h1v1h-1zM74 638h1v1h-1zM75 637h5v1h-5zM80 638h1v1h-1zM81 639h1v2h-1zM82 641h1v1h-1zM83 642h1v1h-1zM84 641h1v1h-1zM85 639h1v2h-1zM86 638h1v1h-1zM87 637h5v1h-5zM92 635h1v2h-1zM93 633h1v2h-1zM94 631h1v2h-1zM95 629h1v2h-1zM96 627h1v2h-1zM97 625h1v2h-1zM98 623h1v2h-1zM99 621h1v2h-1zM100 620h2v1h-2zM102 619h1v1h-1zM103 618h3v1h-3zM106 617h2v1h-2zM108 616h1v1h-1zM109 615h1v1h-1zM110 614h1v1h-1zM111 613h5v1h-5zM116 611h1v2h-1zM117 610h1v1h-1zM118 608h1v2h-1zM119 607h1v2h-1zM120 609h1v3h-1zM121 612h1v3h-1zM122 615h1v3h-1zM123 618h1v2h-1zM124 619h2v1h-2zM126 620h1v1h-1zM127 619h1v2h-1zM128 617h1v2h-1zM129 615h1v2h-1zM130 613h1v2h-1zM131 612h1v1h-1zM132 611h2v1h-2zM134 610h1v1h-1zM135 609h1v1h-1zM136 610h1v1h-1zM137 611h1v1h-1zM138 612h1v1h-1zM139 613h4v1h-4zM143 613h1v2h-1zM144 615h1v2h-1zM145 617h1v2h-1zM146 619h1v2h-1zM147 621h1v2h-1zM148 623h1v1h-1zM149 624h1v1h-1zM150 625h1v1h-1zM151 626h5v1h-5zM156 625h1v1h-1zM157 624h1v1h-1zM158 623h1v1h-1zM159 622h4v1h-4zM163 622h1v2h-1zM164 624h1v2h-1zM165 626h1v2h-1zM166 628h1v2h-1zM167 630h1v2h-1zM168 628h1v2h-1zM169 625h1v3h-1zM170 623h1v2h-1zM171 621h1v2h-1zM172 623h1v3h-1zM173 626h1v2h-1zM174 628h1v3h-1zM175 631h1v2h-1zM176 632h4v1h-4zM180 630h1v2h-1zM181 629h1v1h-1zM182 627h1v2h-1zM183 626h1v2h-1zM184 628h1v3h-1zM185 631h1v3h-1zM186 634h1v3h-1zM187 637h1v2h-1zM188 635h1v2h-1zM189 633h1v2h-1zM190 631h1v2h-1zM191 630h2v1h-2zM193 631h2v1h-2zM195 632h1v1h-1zM196 633h1v2h-1zM197 635h1v2h-1zM198 637h1v2h-1zM199 638h1v2h-1zM200 636h1v2h-1zM201 634h1v2h-1zM202 632h1v2h-1zM203 631h3v1h-3zM206 630h6v1h-6zM212 631h2v1h-2zM214 632h1v1h-1zM215 633h2v1h-2zM217 634h2v1h-2zM219 635h1v1h-1zM220 636h2v1h-2zM222 637h1v1h-1zM223 638h1v1h-1zM224 639h2v1h-2zM226 640h1v1h-1zM227 641h1v1h-1zM228 642h2v1h-2zM230 643h1v1h-1zM231 644h3v1h-3zM234 645h4v1h-4zM238 646h2v1h-2zM240 645h2v1h-2zM242 644h1v1h-1zM243 643h2v1h-2zM245 644h2v1h-2zM247 644h1v2h-1zM248 642h1v2h-1zM249 640h1v2h-1zM250 638h1v2h-1zM251 636h1v2h-1zM252 638h1v3h-1zM253 641h1v3h-1zM254 644h1v3h-1zM255 647h1v2h-1zM256 648h4v1h-4zM260 647h1v1h-1zM261 645h1v2h-1zM262 644h1v1h-1zM263 643h1v1h-1zM264 644h2v1h-2zM266 645h1v1h-1zM267 646h1v1h-1zM268 647h1v2h-1zM269 649h1v2h-1zM270 651h1v2h-1zM271 653h1v1h-1zM272 654h1v1h-1zM273 655h1v2h-1zM274 657h1v1h-1zM275 658h6v1h-6zM281 659h2v1h-2zM283 658h1v3h-1zM284 653h1v5h-1zM285 647h1v6h-1zM286 642h1v5h-1zM287 639h1v3h-1zM288 639h1v1h-1zM289 638h2v1h-2zM291 637h2v1h-2zM293 636h2v1h-2zM295 635h2v1h-2zM297 634h2v1h-2zM299 633h1v1h-1zM300 634h1v2h-1zM301 636h1v1h-1zM302 637h1v2h-1zM303 639h3v1h-3zM306 640h2v1h-2zM308 641h1v1h-1zM309 642h1v1h-1zM310 643h1v1h-1zM311 644h1v1h-1zM312 645h1v1h-1zM313 646h1v2h-1zM314 648h1v1h-1zM315 649h1v1h-1zM316 648h1v1h-1zM317 646h1v2h-1zM318 645h1v1h-1zM319 644h3v1h-3zM322 645h2v1h-2zM324 646h2v1h-2zM326 647h1v1h-1zM327 648h1v1h-1zM328 647h1v1h-1zM329 646h1v1h-1zM330 645h1v1h-1zM331 644h2v1h-2zM333 645h2v1h-2zM335 646h1v1h-1zM336 647h1v1h-1zM337 648h1v2h-1zM338 650h1v1h-1zM339 651h3v1h-3zM342 650h2v1h-2zM344 649h1v1h-1zM345 648h1v1h-1zM346 647h1v1h-1zM347 646h2v1h-2zM349 647h2v1h-2zM351 648h1v1h-1zM352 649h1v1h-1zM353 650h1v2h-1zM354 652h1v1h-1zM355 653h1v1h-1zM356 654h1v1h-1zM357 655h1v1h-1zM358 656h1v1h-1zM359 657h1v1h-1zM360 655h1v2h-1zM361 654h1v1h-1zM362 652h1v2h-1zM363 651h1v1h-1zM364 652h1v1h-1zM365 653h1v1h-1zM366 654h1v1h-1zM367 655h2v1h-2zM369 654h2v1h-2zM371 653h1v1h-1zM372 654h2v1h-2zM374 655h1v1h-1zM375 656h3v1h-3zM378 655h2v1h-2zM380 656h1v1h-1zM381 657h1v1h-1zM382 658h1v1h-1zM383 659h2v1h-2zM385 658h2v1h-2zM387 656h1v2h-1zM388 652h1v4h-1zM389 648h1v4h-1zM390 644h1v4h-1zM391 642h1v2h-1zM392 640h1v2h-1zM393 638h1v2h-1zM394 636h1v2h-1zM395 635h1v1h-1zM396 633h1v2h-1zM397 631h1v2h-1zM398 629h1v2h-1zM399 628h1v1h-1zM400 627h1v1h-1zM401 626h1v1h-1zM402 625h1v1h-1zM403 624h1v2h-1zM404 626h1v3h-1zM405 629h1v2h-1zM406 631h1v3h-1zM407 634h1v2h-1zM408 635h2v1h-2zM410 636h2v1h-2zM412 637h1v1h-1zM413 638h1v1h-1zM414 639h1v1h-1zM415 640h1v1h-1zM416 639h2v1h-2zM418 638h1v1h-1zM419 637h1v1h-1zM420 636h1v1h-1zM421 635h1v1h-1zM422 634h1v1h-1zM423 633h2v1h-2zM425 634h2v1h-2zM427 635h1v2h-1zM428 637h1v2h-1zM429 639h1v2h-1zM430 641h1v2h-1zM431 643h1v2h-1zM432 644h1v1h-1zM433 645h2v1h-2zM435 646h3v1h-3zM438 647h3v1h-3zM441 646h2v1h-2zM443 645h1v1h-1zM444 643h1v2h-1zM445 642h1v1h-1zM446 640h1v2h-1zM447 639h3v1h-3zM450 640h4v1h-4zM454 641h3v1h-3zM457 642h2v1h-2zM459 643h2v1h-2zM461 644h2v1h-2zM463 645h2v1h-2zM465 646h2v1h-2zM467 647h4v1h-4zM471 647h1v2h-1zM472 649h1v4h-1zM473 653h1v3h-1zM474 656h1v4h-1zM475 660h1v2h-1zM476 659h1v2h-1zM477 657h1v2h-1zM478 655h1v2h-1zM479 654h3v1h-3zM482 655h11v1h-11zM493 654h2v1h-2zM495 652h1v2h-1zM496 650h1v2h-1zM497 648h1v2h-1zM498 646h1v2h-1zM499 645h1v2h-1zM500 647h1v2h-1zM501 649h1v3h-1zM502 652h1v2h-1zM503 654h1v2h-1zM504 655h1v1h-1zM505 654h2v1h-2zM507 651h1v3h-1zM508 647h1v4h-1zM509 643h1v4h-1zM510 639h1v4h-1zM511 637h1v2h-1zM512 636h2v1h-2zM514 635h1v1h-1zM515 634h2v1h-2zM517 635h2v1h-2zM519 636h1v1h-1zM520 635h1v1h-1zM521 633h1v2h-1zM522 632h1v1h-1zM523 631h1v1h-1zM524 629h1v2h-1zM525 627h1v2h-1zM526 625h1v2h-1zM527 624h3v1h-3zM530 625h4v1h-4zM534 626h1v1h-1zM535 625h1v2h-1zM536 623h1v2h-1zM537 620h1v3h-1zM538 618h1v2h-1zM539 614h1v4h-1zM540 610h1v4h-1zM541 606h1v4h-1zM542 602h1v4h-1zM543 599h1v3h-1zM544 599h2v1h-2zM546 598h4v1h-4zM550 599h2v1h-2zM552 600h2v1h-2zM554 601h1v1h-1zM555 602h5v1h-5zM560 603h1v2h-1zM561 605h1v2h-1zM562 607h1v2h-1zM563 609h1v2h-1zM564 611h1v2h-1zM565 613h1v2h-1zM566 615h1v2h-1zM567 616h1v2h-1zM568 614h1v2h-1zM569 611h1v3h-1zM570 609h1v2h-1zM571 607h1v3h-1zM572 610h1v4h-1zM573 614h1v4h-1zM574 618h1v4h-1zM575 622h1v3h-1zM576 625h1v2h-1zM577 627h1v2h-1zM578 629h1v2h-1zM579 631h2v1h-2zM581 630h2v1h-2zM583 629h7v1h-7zM590 628h2v1h-2zM592 626h1v2h-1zM593 624h1v2h-1zM594 622h1v2h-1zM595 620h1v2h-1zM596 618h1v2h-1zM597 616h1v2h-1zM598 614h1v2h-1zM599 612h1v2h-1zM600 612h1v1h-1zM601 611h2v1h-2zM603 610h1v1h-1zM604 611h2v1h-2zM606 612h1v1h-1zM607 613h3v1h-3zM610 612h1v1h-1zM611 612h1v2h-1zM612 614h1v2h-1zM613 616h1v2h-1zM614 618h1v2h-1zM615 620h3v1h-3zM618 621h1v1h-1zM619 620h1v2h-1zM620 616h1v4h-1zM621 612h1v4h-1zM622 608h1v4h-1zM623 606h1v2h-1zM624 605h1v1h-1zM625 603h1v2h-1zM626 602h1v1h-1zM627 601h1v1h-1zM628 600h1v1h-1zM629 599h1v1h-1zM630 598h1v1h-1zM631 597h3v1h-3zM634 596h6v1h-6zM640 597h1v1h-1zM641 598h1v1h-1zM642 599h1v1h-1zM643 600h1v1h-1zM644 599h2v1h-2zM646 598h1v1h-1zM647 597h3v1h-3zM650 596h4v1h-4zM654 597h4v1h-4zM658 598h3v1h-3zM661 597h2v1h-2zM663 596h1v1h-1zM664 595h1v1h-1zM665 593h1v2h-1zM666 592h1v1h-1zM667 591h1v1h-1zM668 590h1v1h-1zM669 588h1v2h-1zM670 587h1v1h-1zM671 586h1v1h-1zM672 585h2v1h-2zM674 584h1v1h-1zM675 583h1v3h-1zM676 586h1v4h-1zM677 590h1v4h-1zM678 594h1v4h-1zM679 598h1v3h-1zM680 600h2v1h-2zM682 599h2v1h-2zM684 600h1v1h-1zM685 601h1v1h-1zM686 602h1v1h-1zM687 603h1v2h-1zM688 605h1v2h-1zM689 607h1v2h-1zM690 609h1v2h-1zM691 611h1v2h-1zM692 613h1v1h-1zM693 614h1v2h-1zM694 616h1v1h-1zM695 617h2v1h-2zM697 616h2v1h-2zM699 615h2v1h-2zM701 614h2v1h-2zM703 613h1v1h-1zM704 612h2v1h-2zM706 611h1v1h-1zM707 610h1v2h-1zM708 612h1v2h-1zM709 614h1v2h-1zM710 616h1v2h-1zM711 618h10v1h-10zM721 617h2v1h-2zM723 616h1v2h-1zM724 618h1v4h-1zM725 622h1v4h-1zM726 626h1v4h-1zM727 630h1v2h-1zM728 631h1v1h-1zM729 630h2v1h-2zM731 629h1v1h-1zM732 630h1v1h-1zM733 631h1v2h-1zM734 633h1v1h-1zM735 634h2v1h-2zM737 633h2v1h-2zM739 632h1v2h-1zM740 634h1v2h-1zM741 636h1v3h-1zM742 639h1v2h-1zM743 641h1v2h-1zM744 643h1v1h-1zM745 644h1v1h-1zM746 645h1v1h-1zM747 646h1v1h-1zM748 645h1v1h-1zM749 643h1v2h-1zM750 642h1v1h-1zM751 641h1v1h-1zM752 642h1v1h-1zM753 643h1v1h-1zM754 644h1v1h-1zM755 645h1v1h-1zM756 644h2v1h-2zM758 643h1v1h-1zM759 642h1v2h-1zM760 644h1v2h-1zM761 646h1v2h-1zM762 648h1v2h-1zM763 650h1v1h-1zM764 651h2v1h-2zM766 652h1v1h-1zM767 653h3v1h-3zM770 654h2v1h-2zM772 652h1v2h-1zM773 650h1v2h-1zM774 648h1v2h-1zM775 647h3v1h-3zM778 648h2v1h-2zM780 649h2v1h-2zM782 650h1v1h-1zM783 651h3v1h-3zM786 650h2v1h-2zM788 648h1v2h-1zM789 647h1v1h-1zM790 645h1v2h-1zM791 644h3v1h-3zM794 643h2v1h-2zM796 642h2v1h-2zM798 641h1v1h-1zM799 640h2v1h-2zM801 639h2v1h-2zM803 638h1v1h-1zM804 639h1v1h-1zM805 640h1v2h-1zM806 642h1v1h-1zM807 643h1v1h-1zM808 642h2v1h-2zM810 641h1v1h-1zM811 640h1v1h-1zM812 641h1v2h-1zM813 643h1v1h-1zM814 644h1v2h-1zM815 646h1v1h-1zM816 645h2v1h-2zM818 644h1v1h-1zM819 643h3v1h-3zM822 644h2v1h-2zM824 645h1v1h-1zM825 646h1v1h-1zM826 647h1v1h-1zM827 648h2v1h-2zM829 649h2v1h-2zM831 649h1v2h-1zM832 646h1v3h-1zM833 643h1v3h-1zM834 640h1v3h-1zM835 638h1v2h-1zM836 639h2v1h-2zM838 640h1v1h-1zM839 641h1v1h-1zM840 642h1v2h-1zM841 644h1v1h-1zM842 645h1v2h-1zM843 647h1v1h-1zM844 646h2v1h-2zM846 645h1v1h-1zM847 644h1v1h-1zM848 643h1v1h-1zM849 641h1v2h-1zM850 640h1v1h-1zM851 639h2v1h-2zM853 640h2v1h-2zM855 641h1v1h-1zM856 639h1v2h-1zM857 638h1v1h-1zM858 636h1v2h-1zM859 635h1v1h-1zM860 634h2v1h-2zM862 633h1v1h-1zM863 632h5v1h-5zM868 631h2v1h-2zM870 630h1v1h-1zM871 629h2v1h-2zM873 628h2v1h-2zM875 626h1v2h-1zM876 624h1v2h-1zM877 622h1v2h-1zM878 620h1v2h-1zM879 617h1v3h-1zM880 615h1v2h-1zM881 612h1v3h-1zM882 610h1v2h-1zM883 608h1v2h-1zM884 608h2v1h-2zM886 607h6v1h-6zM892 608h2v1h-2zM894 609h1v1h-1zM895 610h6v1h-6zM901 609h2v1h-2zM903 608h1v1h-1zM904 609h1v1h-1zM905 610h1v1h-1zM906 611h1v1h-1zM907 612h1v1h-1zM908 613h1v1h-1zM909 614h1v2h-1zM910 616h1v1h-1zM911 617h3v1h-3zM914 618h4v1h-4zM918 617h2v1h-2zM920 615h1v2h-1zM921 613h1v2h-1zM922 611h1v2h-1zM923 610h3v1h-3zM926 611h1v1h-1zM927 611h1v4h-1zM928 615h1v6h-1zM929 621h1v6h-1zM930 627h1v6h-1zM931 633h1v4h-1zM932 633h1v2h-1zM933 631h1v2h-1zM934 629h1v2h-1zM935 628h1v1h-1zM936 629h2v1h-2zM938 630h1v1h-1zM939 631h3v1h-3zM942 630h2v1h-2zM944 631h1v1h-1zM945 632h1v2h-1zM946 634h1v1h-1zM947 635h1v1h-1zM948 633h1v2h-1zM949 631h1v2h-1zM950 629h1v2h-1zM951 628h4v1h-4zM955 628h1v2h-1zM956 630h1v2h-1zM957 632h1v2h-1zM958 634h1v2h-1zM959 636h7v1h-7zM966 635h2v1h-2zM968 636h2v1h-2zM970 637h1v1h-1zM971 638h3v1h-3zM974 637h2v1h-2zM976 635h1v2h-1zM977 634h1v1h-1zM978 632h1v2h-1zM979 631h5v1h-5zM984 632h2v1h-2zM986 633h1v1h-1zM987 634h3v1h-3zM990 635h8v1h-8zM998 636h2v1h-2zM1000 637h1v1h-1zM1001 638h1v1h-1zM1002 639h1v1h-1zM1003 640h1v1h-1zM1004 641h1v1h-1zM1005 642h1v1h-1zM1006 643h1v1h-1zM1007 644h2v1h-2zM1009 643h2v1h-2zM1011 642h1v1h-1zM1012 643h2v1h-2zM1014 644h1v1h-1zM1015 645h3v1h-3zM1018 646h2v1h-2zM1020 645h1v1h-1zM1021 644h1v1h-1zM1022 643h1v1h-1zM1023 642h1v2h-1zM1024 644h1v3h-1zM1025 647h1v3h-1zM1026 650h1v3h-1zM1027 653h1v2h-1zM1028 650h1v3h-1zM1029 647h1v3h-1zM1030 644h1v3h-1zM1031 642h1v2h-1zM1032 640h1v2h-1zM1033 638h1v2h-1zM1034 636h1v2h-1zM1035 635h1v1h-1zM1036 636h2v1h-2zM1038 637h1v1h-1zM1039 638h5v1h-5zM1044 639h1v1h-1zM1045 640h1v2h-1zM1046 642h1v1h-1zM1047 643h1v1h-1zM1048 644h1v1h-1zM1049 645h1v2h-1zM1050 647h1v1h-1zM1051 648h1v1h-1zM1052 649h1v2h-1zM1053 651h1v1h-1zM1054 652h1v2h-1zM1055 654h1v1h-1zM1056 655h1v2h-1zM1057 657h1v1h-1zM1058 658h1v2h-1zM1059 660h1v1h-1zM1060 658h1v2h-1zM1061 657h1v1h-1zM1062 655h1v2h-1zM1063 654h3v1h-3zM1066 655h2v1h-2zM1068 654h1v1h-1zM1069 652h1v2h-1zM1070 651h1v1h-1zM1071 650h1v2h-1zM1072 652h1v2h-1zM1073 654h1v3h-1zM1074 657h1v2h-1zM1075 659h1v2h-1zM1076 660h4v1h-4zM1080 659h1v1h-1zM1081 658h1v1h-1zM1082 657h1v1h-1zM1083 656h1v1h-1zM1084 657h1v1h-1zM1085 658h1v1h-1zM1086 659h1v1h-1zM1087 660h3v1h-3zM1090 661h1v1h-1zM1091 660h1v2h-1zM1092 658h1v2h-1zM1093 656h1v2h-1zM1094 654h1v2h-1zM1095 653h3v1h-3zM1098 652h2v1h-2zM1100 650h1v2h-1zM1101 648h1v2h-1zM1102 646h1v2h-1zM1103 645h4v1h-4zM1107 643h1v3h-1zM1108 638h1v5h-1zM1109 632h1v6h-1zM1110 627h1v5h-1zM1111 624h1v3h-1zM1112 624h1v1h-1zM1113 625h2v1h-2zM1115 626h1v2h-1zM1116 628h1v2h-1zM1117 630h1v2h-1zM1118 632h1v2h-1zM1119 634h1v2h-1zM1120 635h2v1h-2zM1122 636h4v1h-4zM1126 635h2v1h-2zM1128 636h1v2h-1zM1129 638h1v1h-1zM1130 639h1v2h-1zM1131 641h3v1h-3zM1134 642h4v1h-4zM1138 643h2v1h-2zM1140 642h1v1h-1zM1141 640h1v2h-1zM1142 639h1v1h-1zM1143 638h1v1h-1zM1144 639h1v2h-1zM1145 641h1v2h-1zM1146 643h1v2h-1zM1147 645h1v1h-1zM1148 643h1v2h-1zM1149 641h1v2h-1zM1150 639h1v2h-1zM1151 638h1v1h-1zM1152 639h1v1h-1zM1153 640h1v2h-1zM1154 642h1v1h-1zM1155 643h1v1h-1zM1156 642h2v1h-2zM1158 641h1v1h-1zM1159 639h1v2h-1zM1160 636h1v3h-1zM1161 634h1v2h-1zM1162 631h1v3h-1zM1163 629h1v2h-1zM1164 630h1v2h-1zM1165 632h1v1h-1zM1166 633h1v2h-1zM1167 635h1v1h-1zM1168 636h1v2h-1zM1169 638h1v1h-1zM1170 639h1v2h-1zM1171 640h1v2h-1zM1172 636h1v4h-1zM1173 633h1v3h-1zM1174 629h1v4h-1zM1175 627h1v2h-1zM1176 627h2v1h-2zM1178 626h2v1h-2zM1180 625h1v1h-1zM1181 623h1v2h-1zM1182 622h1v1h-1zM1183 621h1v1h-1zM1184 622h2v1h-2zM1186 623h1v1h-1zM1187 624h1v2h-1zM1188 626h1v2h-1zM1189 628h1v2h-1zM1190 630h1v2h-1zM1191 632h1v2h-1zM1192 632h1v1h-1zM1193 631h1v1h-1zM1194 630h1v1h-1zM1195 629h1v2h-1zM1196 631h1v3h-1zM1197 634h1v2h-1zM1198 636h1v3h-1zM1199 639h1v2h-1zM1200 638h1v2h-1zM1201 636h1v2h-1zM1202 634h1v2h-1zM1203 633h3v1h-3zM1206 634h2v1h-2zM1208 632h1v2h-1zM1209 631h1v1h-1zM1210 629h1v2h-1z" fill="#1e90ff" shape-rendering="crispEdges"/>
<g shape-rendering="crispEdges" fill="#00008b">
<rect x="2" y="2" width="1222" height="1"/>
<rect x="2" y="2" width="1" height="565"/>
<rect x="1223" y="2" width="1" height="565"/>
<rect x="2" y="568" width="1" height="129"/>
<rect x="1223" y="568" width="1" height="129"/>
<rect x="2" y="566" width="1222" height="1"/>
<rect x="2" y="568" width="1222" height="1"/>
<rect x="2" y="696" width="1222" height="1"/>
<rect x="1224" y="34" width="2" height="1"/>
<rect x="1224" y="85" width="2" height="1"/>
<rect x="1224" y="136" width="2" height="1"/>
<rect x="1224" y="187" width="2" height="1"/>
<rect x="1224" y="238" width="2" height="1"/>
<rect x="1224" y="290" width="2" height="1"/>
<rect x="1224" y="341" width="2" height="1"/>
<rect x="1224" y="392" width="2" height="1"/>
<rect x="1224" y="443" width="2" height="1"/>
<rect x="1224" y="494" width="2" height="1"/>
<rect x="1224" y="545" width="2" height="1"/>
<rect x="1224" y="570" width="1" height="1"/>
<rect x="1224" y="695" width="1" height="1"/>
<rect x="3" y="697" width="1" height="3"/>
<rect x="99" y="697" width="1" height="3"/>
<rect x="195" y="697" width="1" height="3"/>
<rect x="291" y="697" width="1" height="3"/>
<rect x="387" y="697" width="1" height="3"/>
<rect x="483" y="697" width="1" height="3"/>
<rect x="579" y="697" width="1" height="3"/>
<rect x="675" y="697" width="1" height="3"/>
<rect x="771" y="697" width="1" height="3"/>
<rect x="867" y="697" width="1" height="3"/>
<rect x="963" y="697" width="1" height="3"/>
<rect x="1059" y="697" width="1" height="3"/>
<rect x="1155" y="697" width="1" height="3"/>
</g>
<text x="1230.5" y="38.5">1.2080</text>
<text x="1230.5" y="89.5">1.2030</text>
<text x="1230.5" y="140.5">1.1980</text>
<text x="1230.5" y="191.5">1.1930</text>
<text x="1230.5" y="242.5">1.1880</text>
<text x="1230.5" y="294.5">1.1830</text>
<text x="1230.5" y="345.5">1.1780</text>
<text x="1230.5" y="396.5">1.1730</text>
<text x="1230.5" y="447.5">1.1680</text>
<text x="1230.5" y="498.5">1.1630</text>
<text x="1230.5" y="549.5">1.1580</text>
<text x="1227.2" y="582">100</text>
<text x="1226.5" y="611.5">70</text>
<text x="1226.5" y="662.5">30</text>
<text x="1227.6" y="692.5">0</text>
<rect x="1225" y="305" width="49" height="14" fill="#00008b" shape-rendering="crispEdges"/>
<text x="1230.5" y="316.5" style="fill:#fff">1.1808</text>
<text x="2.2" y="712" style="font-size:12.5px">16 Dec 2025</text>
<text x="98.2" y="712" style="font-size:12.5px">22 Dec 12:00</text>
<text x="194.2" y="712" style="font-size:12.5px">29 Dec 12:00</text>
<text x="290.2" y="712" style="font-size:12.5px">5 Jan 20:00</text>
<text x="386.2" y="712" style="font-size:12.5px">9 Jan 20:00</text>
<text x="482.2" y="712" style="font-size:12.5px">15 Jan 20:00</text>
<text x="578.2" y="712" style="font-size:12.5px">21 Jan 20:00</text>
<text x="674.2" y="712" style="font-size:12.5px">27 Jan 20:00</text>
<text x="770.2" y="712" style="font-size:12.5px">2 Feb 20:00</text>
<text x="866.2" y="712" style="font-size:12.5px">6 Feb 20:00</text>
<text x="962.2" y="712" style="font-size:12.5px">12 Feb 20:00</text>
<text x="1058.2" y="712" style="font-size:12.5px">18 Feb 20:00</text>
<text x="1154.2" y="712" style="font-size:12.5px">24 Feb 20:00</text>
<path d="M6 10h9v1h-1v1h-1v1h-1v1h-1v1h-1v-1h-1v-1h-1v-1h-1v-1h-1z" fill="#00008b" shape-rendering="crispEdges"/>
<text x="21" y="16.5" textLength="63" lengthAdjust="spacingAndGlyphs">EURUSD,H4</text>
<text x="93.3" y="16.5">1.1791</text>
<text x="136.6" y="16.5">1.1812</text>
<text x="180" y="16.5">1.1790</text>
<text x="223.2" y="16.5">1.1808</text>
<text x="7.5" y="584" textLength="90.5" lengthAdjust="spacingAndGlyphs">RSI(14) 53.1324</text>
</svg>
</body></html>
